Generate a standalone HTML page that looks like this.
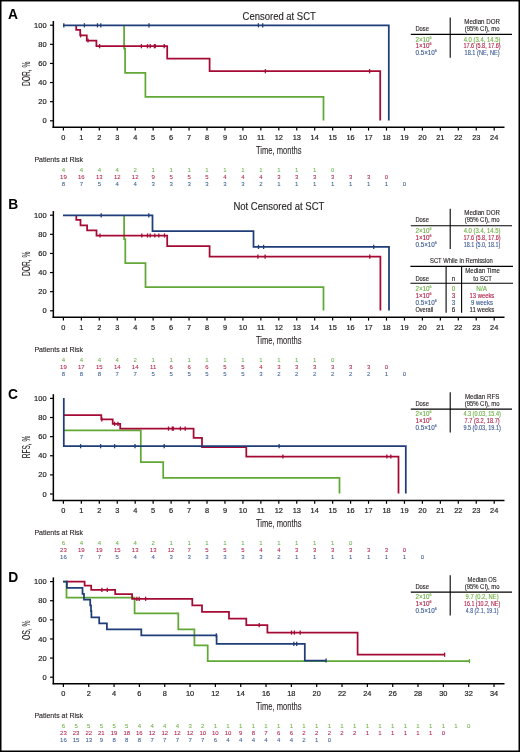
<!DOCTYPE html>
<html><head><meta charset="utf-8"><title>KM curves</title>
<style>
html,body{margin:0;padding:0;background:#fff;}
body{width:520px;height:752px;overflow:hidden;}
svg{display:block;will-change:transform;}
text{font-family:"Liberation Sans", sans-serif;}
.at{stroke:#231f20;stroke-width:0.08px;}
.yt{stroke:#231f20;stroke-width:0.12px;}
.xl,.yl{stroke:#231f20;stroke-width:0.2px;}
</style></head><body>
<svg width="520" height="752" viewBox="0 0 520 752">
<rect x="0" y="0" width="520" height="752" fill="#fff"/>
<g font-family='"Liberation Sans", sans-serif'>
<text x="8.0" y="18.8" font-size="13.8" font-weight="bold" fill="#000">A</text>
<line x1="53.35" y1="21.00" x2="53.35" y2="127.95" stroke="#000" stroke-width="1.5"/>
<line x1="52.60" y1="127.30" x2="504.50" y2="127.30" stroke="#000" stroke-width="1.5"/>
<line x1="50.00" y1="120.80" x2="53.50" y2="120.80" stroke="#000" stroke-width="1.2"/>
<text x="46.60" y="123.40" font-size="7.5" fill="#231f20" text-anchor="end" class="yl" stroke="#231f20" stroke-width="0.12">0</text>
<line x1="50.00" y1="101.68" x2="53.50" y2="101.68" stroke="#000" stroke-width="1.2"/>
<text x="46.60" y="104.28" font-size="7.5" fill="#231f20" text-anchor="end" class="yl" stroke="#231f20" stroke-width="0.12">20</text>
<line x1="50.00" y1="82.56" x2="53.50" y2="82.56" stroke="#000" stroke-width="1.2"/>
<text x="46.60" y="85.16" font-size="7.5" fill="#231f20" text-anchor="end" class="yl" stroke="#231f20" stroke-width="0.12">40</text>
<line x1="50.00" y1="63.44" x2="53.50" y2="63.44" stroke="#000" stroke-width="1.2"/>
<text x="46.60" y="66.04" font-size="7.5" fill="#231f20" text-anchor="end" class="yl" stroke="#231f20" stroke-width="0.12">60</text>
<line x1="50.00" y1="44.32" x2="53.50" y2="44.32" stroke="#000" stroke-width="1.2"/>
<text x="46.60" y="46.92" font-size="7.5" fill="#231f20" text-anchor="end" class="yl" stroke="#231f20" stroke-width="0.12">80</text>
<line x1="50.00" y1="25.20" x2="53.50" y2="25.20" stroke="#000" stroke-width="1.2"/>
<text x="46.60" y="27.80" font-size="7.5" fill="#231f20" text-anchor="end" class="yl" stroke="#231f20" stroke-width="0.12">100</text>
<line x1="63.40" y1="127.20" x2="63.40" y2="130.60" stroke="#000" stroke-width="1.2"/>
<text x="63.40" y="139.90" font-size="7.4" fill="#231f20" text-anchor="middle" class="xl" stroke="#231f20" stroke-width="0.12">0</text>
<line x1="81.35" y1="127.20" x2="81.35" y2="130.60" stroke="#000" stroke-width="1.2"/>
<text x="81.35" y="139.90" font-size="7.4" fill="#231f20" text-anchor="middle" class="xl" stroke="#231f20" stroke-width="0.12">1</text>
<line x1="99.30" y1="127.20" x2="99.30" y2="130.60" stroke="#000" stroke-width="1.2"/>
<text x="99.30" y="139.90" font-size="7.4" fill="#231f20" text-anchor="middle" class="xl" stroke="#231f20" stroke-width="0.12">2</text>
<line x1="117.25" y1="127.20" x2="117.25" y2="130.60" stroke="#000" stroke-width="1.2"/>
<text x="117.25" y="139.90" font-size="7.4" fill="#231f20" text-anchor="middle" class="xl" stroke="#231f20" stroke-width="0.12">3</text>
<line x1="135.20" y1="127.20" x2="135.20" y2="130.60" stroke="#000" stroke-width="1.2"/>
<text x="135.20" y="139.90" font-size="7.4" fill="#231f20" text-anchor="middle" class="xl" stroke="#231f20" stroke-width="0.12">4</text>
<line x1="153.15" y1="127.20" x2="153.15" y2="130.60" stroke="#000" stroke-width="1.2"/>
<text x="153.15" y="139.90" font-size="7.4" fill="#231f20" text-anchor="middle" class="xl" stroke="#231f20" stroke-width="0.12">5</text>
<line x1="171.10" y1="127.20" x2="171.10" y2="130.60" stroke="#000" stroke-width="1.2"/>
<text x="171.10" y="139.90" font-size="7.4" fill="#231f20" text-anchor="middle" class="xl" stroke="#231f20" stroke-width="0.12">6</text>
<line x1="189.05" y1="127.20" x2="189.05" y2="130.60" stroke="#000" stroke-width="1.2"/>
<text x="189.05" y="139.90" font-size="7.4" fill="#231f20" text-anchor="middle" class="xl" stroke="#231f20" stroke-width="0.12">7</text>
<line x1="207.00" y1="127.20" x2="207.00" y2="130.60" stroke="#000" stroke-width="1.2"/>
<text x="207.00" y="139.90" font-size="7.4" fill="#231f20" text-anchor="middle" class="xl" stroke="#231f20" stroke-width="0.12">8</text>
<line x1="224.95" y1="127.20" x2="224.95" y2="130.60" stroke="#000" stroke-width="1.2"/>
<text x="224.95" y="139.90" font-size="7.4" fill="#231f20" text-anchor="middle" class="xl" stroke="#231f20" stroke-width="0.12">9</text>
<line x1="242.90" y1="127.20" x2="242.90" y2="130.60" stroke="#000" stroke-width="1.2"/>
<text x="242.90" y="139.90" font-size="7.4" fill="#231f20" text-anchor="middle" class="xl" stroke="#231f20" stroke-width="0.12">10</text>
<line x1="260.85" y1="127.20" x2="260.85" y2="130.60" stroke="#000" stroke-width="1.2"/>
<text x="260.85" y="139.90" font-size="7.4" fill="#231f20" text-anchor="middle" class="xl" stroke="#231f20" stroke-width="0.12">11</text>
<line x1="278.80" y1="127.20" x2="278.80" y2="130.60" stroke="#000" stroke-width="1.2"/>
<text x="278.80" y="139.90" font-size="7.4" fill="#231f20" text-anchor="middle" class="xl" stroke="#231f20" stroke-width="0.12">12</text>
<line x1="296.75" y1="127.20" x2="296.75" y2="130.60" stroke="#000" stroke-width="1.2"/>
<text x="296.75" y="139.90" font-size="7.4" fill="#231f20" text-anchor="middle" class="xl" stroke="#231f20" stroke-width="0.12">13</text>
<line x1="314.70" y1="127.20" x2="314.70" y2="130.60" stroke="#000" stroke-width="1.2"/>
<text x="314.70" y="139.90" font-size="7.4" fill="#231f20" text-anchor="middle" class="xl" stroke="#231f20" stroke-width="0.12">14</text>
<line x1="332.65" y1="127.20" x2="332.65" y2="130.60" stroke="#000" stroke-width="1.2"/>
<text x="332.65" y="139.90" font-size="7.4" fill="#231f20" text-anchor="middle" class="xl" stroke="#231f20" stroke-width="0.12">15</text>
<line x1="350.60" y1="127.20" x2="350.60" y2="130.60" stroke="#000" stroke-width="1.2"/>
<text x="350.60" y="139.90" font-size="7.4" fill="#231f20" text-anchor="middle" class="xl" stroke="#231f20" stroke-width="0.12">16</text>
<line x1="368.55" y1="127.20" x2="368.55" y2="130.60" stroke="#000" stroke-width="1.2"/>
<text x="368.55" y="139.90" font-size="7.4" fill="#231f20" text-anchor="middle" class="xl" stroke="#231f20" stroke-width="0.12">17</text>
<line x1="386.50" y1="127.20" x2="386.50" y2="130.60" stroke="#000" stroke-width="1.2"/>
<text x="386.50" y="139.90" font-size="7.4" fill="#231f20" text-anchor="middle" class="xl" stroke="#231f20" stroke-width="0.12">18</text>
<line x1="404.45" y1="127.20" x2="404.45" y2="130.60" stroke="#000" stroke-width="1.2"/>
<text x="404.45" y="139.90" font-size="7.4" fill="#231f20" text-anchor="middle" class="xl" stroke="#231f20" stroke-width="0.12">19</text>
<line x1="422.40" y1="127.20" x2="422.40" y2="130.60" stroke="#000" stroke-width="1.2"/>
<text x="422.40" y="139.90" font-size="7.4" fill="#231f20" text-anchor="middle" class="xl" stroke="#231f20" stroke-width="0.12">20</text>
<line x1="440.35" y1="127.20" x2="440.35" y2="130.60" stroke="#000" stroke-width="1.2"/>
<text x="440.35" y="139.90" font-size="7.4" fill="#231f20" text-anchor="middle" class="xl" stroke="#231f20" stroke-width="0.12">21</text>
<line x1="458.30" y1="127.20" x2="458.30" y2="130.60" stroke="#000" stroke-width="1.2"/>
<text x="458.30" y="139.90" font-size="7.4" fill="#231f20" text-anchor="middle" class="xl" stroke="#231f20" stroke-width="0.12">22</text>
<line x1="476.25" y1="127.20" x2="476.25" y2="130.60" stroke="#000" stroke-width="1.2"/>
<text x="476.25" y="139.90" font-size="7.4" fill="#231f20" text-anchor="middle" class="xl" stroke="#231f20" stroke-width="0.12">23</text>
<line x1="494.20" y1="127.20" x2="494.20" y2="130.60" stroke="#000" stroke-width="1.2"/>
<text x="494.20" y="139.90" font-size="7.4" fill="#231f20" text-anchor="middle" class="xl" stroke="#231f20" stroke-width="0.12">24</text>
<text x="256.00" y="153.70" font-size="10.6" fill="#231f20" text-anchor="start" textLength="45.60" lengthAdjust="spacingAndGlyphs" class="at" stroke="#231f20" stroke-width="0.12">Time, months</text>
<text class="yt" transform="translate(29.5 73.80) rotate(-90)" font-size="10.8" fill="#231f20" text-anchor="middle" textLength="24.5" lengthAdjust="spacingAndGlyphs">DOR, %</text>
<text x="242.60" y="20.10" font-size="10.1" fill="#231f20" text-anchor="start" textLength="73.20" lengthAdjust="spacingAndGlyphs" stroke="#231f20" stroke-width="0.12">Censored at SCT</text>
<line x1="450.20" y1="17.50" x2="450.20" y2="57.70" stroke="#000" stroke-width="1.1"/>
<line x1="410.80" y1="34.40" x2="512.00" y2="34.40" stroke="#000" stroke-width="1.1"/>
<text x="415.40" y="31.10" font-size="6.3" fill="#231f20" text-anchor="start" textLength="13.60" lengthAdjust="spacingAndGlyphs" stroke="#231f20" stroke-width="0.12">Dose</text>
<text x="482.10" y="23.80" font-size="6.3" fill="#231f20" text-anchor="middle" textLength="35.60" lengthAdjust="spacingAndGlyphs" stroke="#231f20" stroke-width="0.12">Median DOR</text>
<text x="482.10" y="31.10" font-size="6.3" fill="#231f20" text-anchor="middle" textLength="34.80" lengthAdjust="spacingAndGlyphs" stroke="#231f20" stroke-width="0.12">(95% CI), mo</text>
<text x="415.40" y="41.50" font-size="6.3" fill="#6cb043" stroke="#6cb043" stroke-width="0.12">2×10<tspan dy="-3.0" font-size="3.6">6</tspan></text>
<text x="482.10" y="41.50" font-size="6.3" fill="#6cb043" text-anchor="middle" textLength="36.80" lengthAdjust="spacingAndGlyphs" stroke="#6cb043" stroke-width="0.12">4.0 (3.4, 14.5)</text>
<text x="415.40" y="48.40" font-size="6.3" fill="#b01c45" stroke="#b01c45" stroke-width="0.12">1×10<tspan dy="-3.0" font-size="3.6">6</tspan></text>
<text x="482.10" y="48.40" font-size="6.3" fill="#b01c45" text-anchor="middle" textLength="37.20" lengthAdjust="spacingAndGlyphs" stroke="#b01c45" stroke-width="0.12">17.6 (5.8, 17.6)</text>
<text x="415.40" y="55.30" font-size="6.3" fill="#3a5a95" stroke="#3a5a95" stroke-width="0.12">0.5×10<tspan dy="-3.0" font-size="3.6">6</tspan></text>
<text x="482.10" y="55.30" font-size="6.3" fill="#3a5a95" text-anchor="middle" textLength="35.20" lengthAdjust="spacingAndGlyphs" stroke="#3a5a95" stroke-width="0.12">18.1 (NE, NE)</text>
<path d="M124.1 25.3 V48.6 H125.1 V72.9 H145.4 V96.8 H323.5 V120.4" fill="none" stroke="#62a836" stroke-width="1.75" stroke-linejoin="miter" stroke-linecap="butt"/>
<path d="M76.2 25.3 V29.9 H80.2 V35.3 H86.8 V40.5 H96.4 V46.2 H167.2 V58.5 H209.6 V71.2 H380.2 V120.4" fill="none" stroke="#a50a35" stroke-width="1.75" stroke-linejoin="miter" stroke-linecap="butt"/>
<line x1="80.60" y1="33.20" x2="80.60" y2="37.40" stroke="#a50a35" stroke-width="1.3"/>
<line x1="88.00" y1="38.40" x2="88.00" y2="42.60" stroke="#a50a35" stroke-width="1.3"/>
<line x1="99.60" y1="44.10" x2="99.60" y2="48.30" stroke="#a50a35" stroke-width="1.3"/>
<line x1="141.40" y1="44.10" x2="141.40" y2="48.30" stroke="#a50a35" stroke-width="1.3"/>
<line x1="147.50" y1="44.10" x2="147.50" y2="48.30" stroke="#a50a35" stroke-width="1.3"/>
<line x1="150.20" y1="44.10" x2="150.20" y2="48.30" stroke="#a50a35" stroke-width="1.3"/>
<line x1="154.40" y1="44.10" x2="154.40" y2="48.30" stroke="#a50a35" stroke-width="1.3"/>
<line x1="155.20" y1="44.10" x2="155.20" y2="48.30" stroke="#a50a35" stroke-width="1.3"/>
<line x1="164.20" y1="44.10" x2="164.20" y2="48.30" stroke="#a50a35" stroke-width="1.3"/>
<line x1="265.40" y1="69.10" x2="265.40" y2="73.30" stroke="#a50a35" stroke-width="1.3"/>
<line x1="369.60" y1="69.10" x2="369.60" y2="73.30" stroke="#a50a35" stroke-width="1.3"/>
<path d="M63.0 25.3 H388.8 V120.4" fill="none" stroke="#1f3d78" stroke-width="1.75" stroke-linejoin="miter" stroke-linecap="butt"/>
<line x1="63.80" y1="23.20" x2="63.80" y2="27.40" stroke="#1f3d78" stroke-width="1.3"/>
<line x1="84.40" y1="23.20" x2="84.40" y2="27.40" stroke="#1f3d78" stroke-width="1.3"/>
<line x1="97.50" y1="23.20" x2="97.50" y2="27.40" stroke="#1f3d78" stroke-width="1.3"/>
<line x1="100.80" y1="23.20" x2="100.80" y2="27.40" stroke="#1f3d78" stroke-width="1.3"/>
<line x1="149.00" y1="23.20" x2="149.00" y2="27.40" stroke="#1f3d78" stroke-width="1.3"/>
<line x1="258.40" y1="23.20" x2="258.40" y2="27.40" stroke="#1f3d78" stroke-width="1.3"/>
<line x1="262.70" y1="23.20" x2="262.70" y2="27.40" stroke="#1f3d78" stroke-width="1.3"/>
<text x="34.40" y="161.50" font-size="7.2" fill="#231f20" text-anchor="start" textLength="48.60" lengthAdjust="spacingAndGlyphs" stroke="#231f20" stroke-width="0.12">Patients at Risk</text>
<text x="63.40" y="171.70" font-size="6.0" fill="#6cb043" text-anchor="middle" class="ar" stroke="#6cb043" stroke-width="0.06">4</text>
<text x="81.35" y="171.70" font-size="6.0" fill="#6cb043" text-anchor="middle" class="ar" stroke="#6cb043" stroke-width="0.06">4</text>
<text x="99.30" y="171.70" font-size="6.0" fill="#6cb043" text-anchor="middle" class="ar" stroke="#6cb043" stroke-width="0.06">4</text>
<text x="117.25" y="171.70" font-size="6.0" fill="#6cb043" text-anchor="middle" class="ar" stroke="#6cb043" stroke-width="0.06">4</text>
<text x="135.20" y="171.70" font-size="6.0" fill="#6cb043" text-anchor="middle" class="ar" stroke="#6cb043" stroke-width="0.06">2</text>
<text x="153.15" y="171.70" font-size="6.0" fill="#6cb043" text-anchor="middle" class="ar" stroke="#6cb043" stroke-width="0.06">1</text>
<text x="171.10" y="171.70" font-size="6.0" fill="#6cb043" text-anchor="middle" class="ar" stroke="#6cb043" stroke-width="0.06">1</text>
<text x="189.05" y="171.70" font-size="6.0" fill="#6cb043" text-anchor="middle" class="ar" stroke="#6cb043" stroke-width="0.06">1</text>
<text x="207.00" y="171.70" font-size="6.0" fill="#6cb043" text-anchor="middle" class="ar" stroke="#6cb043" stroke-width="0.06">1</text>
<text x="224.95" y="171.70" font-size="6.0" fill="#6cb043" text-anchor="middle" class="ar" stroke="#6cb043" stroke-width="0.06">1</text>
<text x="242.90" y="171.70" font-size="6.0" fill="#6cb043" text-anchor="middle" class="ar" stroke="#6cb043" stroke-width="0.06">1</text>
<text x="260.85" y="171.70" font-size="6.0" fill="#6cb043" text-anchor="middle" class="ar" stroke="#6cb043" stroke-width="0.06">1</text>
<text x="278.80" y="171.70" font-size="6.0" fill="#6cb043" text-anchor="middle" class="ar" stroke="#6cb043" stroke-width="0.06">1</text>
<text x="296.75" y="171.70" font-size="6.0" fill="#6cb043" text-anchor="middle" class="ar" stroke="#6cb043" stroke-width="0.06">1</text>
<text x="314.70" y="171.70" font-size="6.0" fill="#6cb043" text-anchor="middle" class="ar" stroke="#6cb043" stroke-width="0.06">1</text>
<text x="332.65" y="171.70" font-size="6.0" fill="#6cb043" text-anchor="middle" class="ar" stroke="#6cb043" stroke-width="0.06">0</text>
<text x="63.40" y="178.60" font-size="6.0" fill="#b01c45" text-anchor="middle" class="ar" stroke="#b01c45" stroke-width="0.06">19</text>
<text x="81.35" y="178.60" font-size="6.0" fill="#b01c45" text-anchor="middle" class="ar" stroke="#b01c45" stroke-width="0.06">16</text>
<text x="99.30" y="178.60" font-size="6.0" fill="#b01c45" text-anchor="middle" class="ar" stroke="#b01c45" stroke-width="0.06">13</text>
<text x="117.25" y="178.60" font-size="6.0" fill="#b01c45" text-anchor="middle" class="ar" stroke="#b01c45" stroke-width="0.06">12</text>
<text x="135.20" y="178.60" font-size="6.0" fill="#b01c45" text-anchor="middle" class="ar" stroke="#b01c45" stroke-width="0.06">12</text>
<text x="153.15" y="178.60" font-size="6.0" fill="#b01c45" text-anchor="middle" class="ar" stroke="#b01c45" stroke-width="0.06">9</text>
<text x="171.10" y="178.60" font-size="6.0" fill="#b01c45" text-anchor="middle" class="ar" stroke="#b01c45" stroke-width="0.06">5</text>
<text x="189.05" y="178.60" font-size="6.0" fill="#b01c45" text-anchor="middle" class="ar" stroke="#b01c45" stroke-width="0.06">5</text>
<text x="207.00" y="178.60" font-size="6.0" fill="#b01c45" text-anchor="middle" class="ar" stroke="#b01c45" stroke-width="0.06">5</text>
<text x="224.95" y="178.60" font-size="6.0" fill="#b01c45" text-anchor="middle" class="ar" stroke="#b01c45" stroke-width="0.06">4</text>
<text x="242.90" y="178.60" font-size="6.0" fill="#b01c45" text-anchor="middle" class="ar" stroke="#b01c45" stroke-width="0.06">4</text>
<text x="260.85" y="178.60" font-size="6.0" fill="#b01c45" text-anchor="middle" class="ar" stroke="#b01c45" stroke-width="0.06">4</text>
<text x="278.80" y="178.60" font-size="6.0" fill="#b01c45" text-anchor="middle" class="ar" stroke="#b01c45" stroke-width="0.06">3</text>
<text x="296.75" y="178.60" font-size="6.0" fill="#b01c45" text-anchor="middle" class="ar" stroke="#b01c45" stroke-width="0.06">3</text>
<text x="314.70" y="178.60" font-size="6.0" fill="#b01c45" text-anchor="middle" class="ar" stroke="#b01c45" stroke-width="0.06">3</text>
<text x="332.65" y="178.60" font-size="6.0" fill="#b01c45" text-anchor="middle" class="ar" stroke="#b01c45" stroke-width="0.06">3</text>
<text x="350.60" y="178.60" font-size="6.0" fill="#b01c45" text-anchor="middle" class="ar" stroke="#b01c45" stroke-width="0.06">3</text>
<text x="368.55" y="178.60" font-size="6.0" fill="#b01c45" text-anchor="middle" class="ar" stroke="#b01c45" stroke-width="0.06">3</text>
<text x="386.50" y="178.60" font-size="6.0" fill="#b01c45" text-anchor="middle" class="ar" stroke="#b01c45" stroke-width="0.06">0</text>
<text x="63.40" y="185.90" font-size="6.0" fill="#3a5a95" text-anchor="middle" class="ar" stroke="#3a5a95" stroke-width="0.06">8</text>
<text x="81.35" y="185.90" font-size="6.0" fill="#3a5a95" text-anchor="middle" class="ar" stroke="#3a5a95" stroke-width="0.06">7</text>
<text x="99.30" y="185.90" font-size="6.0" fill="#3a5a95" text-anchor="middle" class="ar" stroke="#3a5a95" stroke-width="0.06">5</text>
<text x="117.25" y="185.90" font-size="6.0" fill="#3a5a95" text-anchor="middle" class="ar" stroke="#3a5a95" stroke-width="0.06">4</text>
<text x="135.20" y="185.90" font-size="6.0" fill="#3a5a95" text-anchor="middle" class="ar" stroke="#3a5a95" stroke-width="0.06">4</text>
<text x="153.15" y="185.90" font-size="6.0" fill="#3a5a95" text-anchor="middle" class="ar" stroke="#3a5a95" stroke-width="0.06">3</text>
<text x="171.10" y="185.90" font-size="6.0" fill="#3a5a95" text-anchor="middle" class="ar" stroke="#3a5a95" stroke-width="0.06">3</text>
<text x="189.05" y="185.90" font-size="6.0" fill="#3a5a95" text-anchor="middle" class="ar" stroke="#3a5a95" stroke-width="0.06">3</text>
<text x="207.00" y="185.90" font-size="6.0" fill="#3a5a95" text-anchor="middle" class="ar" stroke="#3a5a95" stroke-width="0.06">3</text>
<text x="224.95" y="185.90" font-size="6.0" fill="#3a5a95" text-anchor="middle" class="ar" stroke="#3a5a95" stroke-width="0.06">3</text>
<text x="242.90" y="185.90" font-size="6.0" fill="#3a5a95" text-anchor="middle" class="ar" stroke="#3a5a95" stroke-width="0.06">3</text>
<text x="260.85" y="185.90" font-size="6.0" fill="#3a5a95" text-anchor="middle" class="ar" stroke="#3a5a95" stroke-width="0.06">2</text>
<text x="278.80" y="185.90" font-size="6.0" fill="#3a5a95" text-anchor="middle" class="ar" stroke="#3a5a95" stroke-width="0.06">1</text>
<text x="296.75" y="185.90" font-size="6.0" fill="#3a5a95" text-anchor="middle" class="ar" stroke="#3a5a95" stroke-width="0.06">1</text>
<text x="314.70" y="185.90" font-size="6.0" fill="#3a5a95" text-anchor="middle" class="ar" stroke="#3a5a95" stroke-width="0.06">1</text>
<text x="332.65" y="185.90" font-size="6.0" fill="#3a5a95" text-anchor="middle" class="ar" stroke="#3a5a95" stroke-width="0.06">1</text>
<text x="350.60" y="185.90" font-size="6.0" fill="#3a5a95" text-anchor="middle" class="ar" stroke="#3a5a95" stroke-width="0.06">1</text>
<text x="368.55" y="185.90" font-size="6.0" fill="#3a5a95" text-anchor="middle" class="ar" stroke="#3a5a95" stroke-width="0.06">1</text>
<text x="386.50" y="185.90" font-size="6.0" fill="#3a5a95" text-anchor="middle" class="ar" stroke="#3a5a95" stroke-width="0.06">1</text>
<text x="404.45" y="185.90" font-size="6.0" fill="#3a5a95" text-anchor="middle" class="ar" stroke="#3a5a95" stroke-width="0.06">0</text>
<text x="8.2" y="208.8" font-size="13.8" font-weight="bold" fill="#000">B</text>
<line x1="53.35" y1="211.00" x2="53.35" y2="317.95" stroke="#000" stroke-width="1.5"/>
<line x1="52.60" y1="317.30" x2="504.50" y2="317.30" stroke="#000" stroke-width="1.5"/>
<line x1="50.00" y1="310.80" x2="53.50" y2="310.80" stroke="#000" stroke-width="1.2"/>
<text x="46.60" y="313.40" font-size="7.5" fill="#231f20" text-anchor="end" class="yl" stroke="#231f20" stroke-width="0.12">0</text>
<line x1="50.00" y1="291.68" x2="53.50" y2="291.68" stroke="#000" stroke-width="1.2"/>
<text x="46.60" y="294.28" font-size="7.5" fill="#231f20" text-anchor="end" class="yl" stroke="#231f20" stroke-width="0.12">20</text>
<line x1="50.00" y1="272.56" x2="53.50" y2="272.56" stroke="#000" stroke-width="1.2"/>
<text x="46.60" y="275.16" font-size="7.5" fill="#231f20" text-anchor="end" class="yl" stroke="#231f20" stroke-width="0.12">40</text>
<line x1="50.00" y1="253.44" x2="53.50" y2="253.44" stroke="#000" stroke-width="1.2"/>
<text x="46.60" y="256.04" font-size="7.5" fill="#231f20" text-anchor="end" class="yl" stroke="#231f20" stroke-width="0.12">60</text>
<line x1="50.00" y1="234.32" x2="53.50" y2="234.32" stroke="#000" stroke-width="1.2"/>
<text x="46.60" y="236.92" font-size="7.5" fill="#231f20" text-anchor="end" class="yl" stroke="#231f20" stroke-width="0.12">80</text>
<line x1="50.00" y1="215.20" x2="53.50" y2="215.20" stroke="#000" stroke-width="1.2"/>
<text x="46.60" y="217.80" font-size="7.5" fill="#231f20" text-anchor="end" class="yl" stroke="#231f20" stroke-width="0.12">100</text>
<line x1="63.40" y1="317.20" x2="63.40" y2="320.60" stroke="#000" stroke-width="1.2"/>
<text x="63.40" y="329.90" font-size="7.4" fill="#231f20" text-anchor="middle" class="xl" stroke="#231f20" stroke-width="0.12">0</text>
<line x1="81.35" y1="317.20" x2="81.35" y2="320.60" stroke="#000" stroke-width="1.2"/>
<text x="81.35" y="329.90" font-size="7.4" fill="#231f20" text-anchor="middle" class="xl" stroke="#231f20" stroke-width="0.12">1</text>
<line x1="99.30" y1="317.20" x2="99.30" y2="320.60" stroke="#000" stroke-width="1.2"/>
<text x="99.30" y="329.90" font-size="7.4" fill="#231f20" text-anchor="middle" class="xl" stroke="#231f20" stroke-width="0.12">2</text>
<line x1="117.25" y1="317.20" x2="117.25" y2="320.60" stroke="#000" stroke-width="1.2"/>
<text x="117.25" y="329.90" font-size="7.4" fill="#231f20" text-anchor="middle" class="xl" stroke="#231f20" stroke-width="0.12">3</text>
<line x1="135.20" y1="317.20" x2="135.20" y2="320.60" stroke="#000" stroke-width="1.2"/>
<text x="135.20" y="329.90" font-size="7.4" fill="#231f20" text-anchor="middle" class="xl" stroke="#231f20" stroke-width="0.12">4</text>
<line x1="153.15" y1="317.20" x2="153.15" y2="320.60" stroke="#000" stroke-width="1.2"/>
<text x="153.15" y="329.90" font-size="7.4" fill="#231f20" text-anchor="middle" class="xl" stroke="#231f20" stroke-width="0.12">5</text>
<line x1="171.10" y1="317.20" x2="171.10" y2="320.60" stroke="#000" stroke-width="1.2"/>
<text x="171.10" y="329.90" font-size="7.4" fill="#231f20" text-anchor="middle" class="xl" stroke="#231f20" stroke-width="0.12">6</text>
<line x1="189.05" y1="317.20" x2="189.05" y2="320.60" stroke="#000" stroke-width="1.2"/>
<text x="189.05" y="329.90" font-size="7.4" fill="#231f20" text-anchor="middle" class="xl" stroke="#231f20" stroke-width="0.12">7</text>
<line x1="207.00" y1="317.20" x2="207.00" y2="320.60" stroke="#000" stroke-width="1.2"/>
<text x="207.00" y="329.90" font-size="7.4" fill="#231f20" text-anchor="middle" class="xl" stroke="#231f20" stroke-width="0.12">8</text>
<line x1="224.95" y1="317.20" x2="224.95" y2="320.60" stroke="#000" stroke-width="1.2"/>
<text x="224.95" y="329.90" font-size="7.4" fill="#231f20" text-anchor="middle" class="xl" stroke="#231f20" stroke-width="0.12">9</text>
<line x1="242.90" y1="317.20" x2="242.90" y2="320.60" stroke="#000" stroke-width="1.2"/>
<text x="242.90" y="329.90" font-size="7.4" fill="#231f20" text-anchor="middle" class="xl" stroke="#231f20" stroke-width="0.12">10</text>
<line x1="260.85" y1="317.20" x2="260.85" y2="320.60" stroke="#000" stroke-width="1.2"/>
<text x="260.85" y="329.90" font-size="7.4" fill="#231f20" text-anchor="middle" class="xl" stroke="#231f20" stroke-width="0.12">11</text>
<line x1="278.80" y1="317.20" x2="278.80" y2="320.60" stroke="#000" stroke-width="1.2"/>
<text x="278.80" y="329.90" font-size="7.4" fill="#231f20" text-anchor="middle" class="xl" stroke="#231f20" stroke-width="0.12">12</text>
<line x1="296.75" y1="317.20" x2="296.75" y2="320.60" stroke="#000" stroke-width="1.2"/>
<text x="296.75" y="329.90" font-size="7.4" fill="#231f20" text-anchor="middle" class="xl" stroke="#231f20" stroke-width="0.12">13</text>
<line x1="314.70" y1="317.20" x2="314.70" y2="320.60" stroke="#000" stroke-width="1.2"/>
<text x="314.70" y="329.90" font-size="7.4" fill="#231f20" text-anchor="middle" class="xl" stroke="#231f20" stroke-width="0.12">14</text>
<line x1="332.65" y1="317.20" x2="332.65" y2="320.60" stroke="#000" stroke-width="1.2"/>
<text x="332.65" y="329.90" font-size="7.4" fill="#231f20" text-anchor="middle" class="xl" stroke="#231f20" stroke-width="0.12">15</text>
<line x1="350.60" y1="317.20" x2="350.60" y2="320.60" stroke="#000" stroke-width="1.2"/>
<text x="350.60" y="329.90" font-size="7.4" fill="#231f20" text-anchor="middle" class="xl" stroke="#231f20" stroke-width="0.12">16</text>
<line x1="368.55" y1="317.20" x2="368.55" y2="320.60" stroke="#000" stroke-width="1.2"/>
<text x="368.55" y="329.90" font-size="7.4" fill="#231f20" text-anchor="middle" class="xl" stroke="#231f20" stroke-width="0.12">17</text>
<line x1="386.50" y1="317.20" x2="386.50" y2="320.60" stroke="#000" stroke-width="1.2"/>
<text x="386.50" y="329.90" font-size="7.4" fill="#231f20" text-anchor="middle" class="xl" stroke="#231f20" stroke-width="0.12">18</text>
<line x1="404.45" y1="317.20" x2="404.45" y2="320.60" stroke="#000" stroke-width="1.2"/>
<text x="404.45" y="329.90" font-size="7.4" fill="#231f20" text-anchor="middle" class="xl" stroke="#231f20" stroke-width="0.12">19</text>
<line x1="422.40" y1="317.20" x2="422.40" y2="320.60" stroke="#000" stroke-width="1.2"/>
<text x="422.40" y="329.90" font-size="7.4" fill="#231f20" text-anchor="middle" class="xl" stroke="#231f20" stroke-width="0.12">20</text>
<line x1="440.35" y1="317.20" x2="440.35" y2="320.60" stroke="#000" stroke-width="1.2"/>
<text x="440.35" y="329.90" font-size="7.4" fill="#231f20" text-anchor="middle" class="xl" stroke="#231f20" stroke-width="0.12">21</text>
<line x1="458.30" y1="317.20" x2="458.30" y2="320.60" stroke="#000" stroke-width="1.2"/>
<text x="458.30" y="329.90" font-size="7.4" fill="#231f20" text-anchor="middle" class="xl" stroke="#231f20" stroke-width="0.12">22</text>
<line x1="476.25" y1="317.20" x2="476.25" y2="320.60" stroke="#000" stroke-width="1.2"/>
<text x="476.25" y="329.90" font-size="7.4" fill="#231f20" text-anchor="middle" class="xl" stroke="#231f20" stroke-width="0.12">23</text>
<line x1="494.20" y1="317.20" x2="494.20" y2="320.60" stroke="#000" stroke-width="1.2"/>
<text x="494.20" y="329.90" font-size="7.4" fill="#231f20" text-anchor="middle" class="xl" stroke="#231f20" stroke-width="0.12">24</text>
<text x="256.00" y="343.70" font-size="10.6" fill="#231f20" text-anchor="start" textLength="45.60" lengthAdjust="spacingAndGlyphs" class="at" stroke="#231f20" stroke-width="0.12">Time, months</text>
<text class="yt" transform="translate(29.5 263.80) rotate(-90)" font-size="10.8" fill="#231f20" text-anchor="middle" textLength="24.5" lengthAdjust="spacingAndGlyphs">DOR, %</text>
<text x="233.40" y="210.30" font-size="10.1" fill="#231f20" text-anchor="start" textLength="91.00" lengthAdjust="spacingAndGlyphs" stroke="#231f20" stroke-width="0.12">Not Censored at SCT</text>
<line x1="450.20" y1="208.80" x2="450.20" y2="249.00" stroke="#000" stroke-width="1.1"/>
<line x1="410.80" y1="225.70" x2="512.00" y2="225.70" stroke="#000" stroke-width="1.1"/>
<text x="415.40" y="222.40" font-size="6.3" fill="#231f20" text-anchor="start" textLength="13.60" lengthAdjust="spacingAndGlyphs" stroke="#231f20" stroke-width="0.12">Dose</text>
<text x="482.10" y="215.10" font-size="6.3" fill="#231f20" text-anchor="middle" textLength="35.60" lengthAdjust="spacingAndGlyphs" stroke="#231f20" stroke-width="0.12">Median DOR</text>
<text x="482.10" y="222.40" font-size="6.3" fill="#231f20" text-anchor="middle" textLength="34.80" lengthAdjust="spacingAndGlyphs" stroke="#231f20" stroke-width="0.12">(95% CI), mo</text>
<text x="415.40" y="232.80" font-size="6.3" fill="#6cb043" stroke="#6cb043" stroke-width="0.12">2×10<tspan dy="-3.0" font-size="3.6">6</tspan></text>
<text x="482.10" y="232.80" font-size="6.3" fill="#6cb043" text-anchor="middle" textLength="36.80" lengthAdjust="spacingAndGlyphs" stroke="#6cb043" stroke-width="0.12">4.0 (3.4, 14.5)</text>
<text x="415.40" y="239.70" font-size="6.3" fill="#b01c45" stroke="#b01c45" stroke-width="0.12">1×10<tspan dy="-3.0" font-size="3.6">6</tspan></text>
<text x="482.10" y="239.70" font-size="6.3" fill="#b01c45" text-anchor="middle" textLength="37.20" lengthAdjust="spacingAndGlyphs" stroke="#b01c45" stroke-width="0.12">17.6 (5.8, 17.6)</text>
<text x="415.40" y="246.60" font-size="6.3" fill="#3a5a95" stroke="#3a5a95" stroke-width="0.12">0.5×10<tspan dy="-3.0" font-size="3.6">6</tspan></text>
<text x="482.10" y="246.60" font-size="6.3" fill="#3a5a95" text-anchor="middle" textLength="36.60" lengthAdjust="spacingAndGlyphs" stroke="#3a5a95" stroke-width="0.12">18.1 (5.0, 18.1)</text>
<text x="461.40" y="262.80" font-size="6.3" fill="#231f20" text-anchor="middle" textLength="62.80" lengthAdjust="spacingAndGlyphs" stroke="#231f20" stroke-width="0.12">SCT While in Remission</text>
<line x1="410.40" y1="266.40" x2="513.00" y2="266.40" stroke="#000" stroke-width="1.1"/>
<line x1="410.40" y1="283.30" x2="513.00" y2="283.30" stroke="#000" stroke-width="1.1"/>
<line x1="446.10" y1="266.40" x2="446.10" y2="312.80" stroke="#000" stroke-width="1.1"/>
<line x1="461.60" y1="266.40" x2="461.60" y2="312.80" stroke="#000" stroke-width="1.1"/>
<text x="415.40" y="280.50" font-size="6.3" fill="#231f20" text-anchor="start" textLength="13.60" lengthAdjust="spacingAndGlyphs" stroke="#231f20" stroke-width="0.12">Dose</text>
<text x="453.60" y="280.50" font-size="6.3" fill="#231f20" text-anchor="middle" stroke="#231f20" stroke-width="0.12">n</text>
<text x="482.60" y="273.00" font-size="6.3" fill="#231f20" text-anchor="middle" textLength="34.50" lengthAdjust="spacingAndGlyphs" stroke="#231f20" stroke-width="0.12">Median Time</text>
<text x="482.60" y="280.50" font-size="6.3" fill="#231f20" text-anchor="middle" textLength="18.60" lengthAdjust="spacingAndGlyphs" stroke="#231f20" stroke-width="0.12">to SCT</text>
<text x="415.40" y="290.90" font-size="6.3" fill="#6cb043" stroke="#6cb043" stroke-width="0.12">2×10<tspan dy="-3.0" font-size="3.6">6</tspan></text>
<text x="453.60" y="290.90" font-size="6.3" fill="#6cb043" text-anchor="middle" stroke="#6cb043" stroke-width="0.12">0</text>
<text x="481.60" y="290.90" font-size="6.3" fill="#6cb043" text-anchor="middle" textLength="10.60" lengthAdjust="spacingAndGlyphs" stroke="#6cb043" stroke-width="0.12">N/A</text>
<text x="415.40" y="297.90" font-size="6.3" fill="#b01c45" stroke="#b01c45" stroke-width="0.12">1×10<tspan dy="-3.0" font-size="3.6">6</tspan></text>
<text x="453.60" y="297.90" font-size="6.3" fill="#b01c45" text-anchor="middle" stroke="#b01c45" stroke-width="0.12">3</text>
<text x="481.90" y="297.90" font-size="6.3" fill="#b01c45" text-anchor="middle" textLength="24.80" lengthAdjust="spacingAndGlyphs" stroke="#b01c45" stroke-width="0.12">13 weeks</text>
<text x="415.40" y="305.20" font-size="6.3" fill="#3a5a95" stroke="#3a5a95" stroke-width="0.12">0.5×10<tspan dy="-3.0" font-size="3.6">6</tspan></text>
<text x="453.60" y="305.20" font-size="6.3" fill="#3a5a95" text-anchor="middle" stroke="#3a5a95" stroke-width="0.12">3</text>
<text x="481.90" y="305.20" font-size="6.3" fill="#3a5a95" text-anchor="middle" textLength="22.00" lengthAdjust="spacingAndGlyphs" stroke="#3a5a95" stroke-width="0.12">9 weeks</text>
<text x="415.40" y="312.30" font-size="6.3" fill="#231f20" text-anchor="start" textLength="17.80" lengthAdjust="spacingAndGlyphs" stroke="#231f20" stroke-width="0.12">Overall</text>
<text x="453.60" y="312.30" font-size="6.3" fill="#231f20" text-anchor="middle" stroke="#231f20" stroke-width="0.12">6</text>
<text x="481.90" y="312.30" font-size="6.3" fill="#231f20" text-anchor="middle" textLength="24.80" lengthAdjust="spacingAndGlyphs" stroke="#231f20" stroke-width="0.12">11 weeks</text>
<path d="M124.1 215.3 V239.1 H125.3 V263.1 H145.5 V287.1 H323.5 V310.4" fill="none" stroke="#62a836" stroke-width="1.75" stroke-linejoin="miter" stroke-linecap="butt"/>
<path d="M76.3 215.3 V219.9 H80.5 V225.3 H87.1 V230.3 H96.5 V235.5 H167.2 V246.1 H209.6 V256.7 H380.4 V310.4" fill="none" stroke="#a50a35" stroke-width="1.75" stroke-linejoin="miter" stroke-linecap="butt"/>
<line x1="100.00" y1="233.40" x2="100.00" y2="237.60" stroke="#a50a35" stroke-width="1.3"/>
<line x1="141.80" y1="233.40" x2="141.80" y2="237.60" stroke="#a50a35" stroke-width="1.3"/>
<line x1="147.50" y1="233.40" x2="147.50" y2="237.60" stroke="#a50a35" stroke-width="1.3"/>
<line x1="150.20" y1="233.40" x2="150.20" y2="237.60" stroke="#a50a35" stroke-width="1.3"/>
<line x1="154.80" y1="233.40" x2="154.80" y2="237.60" stroke="#a50a35" stroke-width="1.3"/>
<line x1="158.80" y1="233.40" x2="158.80" y2="237.60" stroke="#a50a35" stroke-width="1.3"/>
<line x1="164.50" y1="233.40" x2="164.50" y2="237.60" stroke="#a50a35" stroke-width="1.3"/>
<line x1="257.90" y1="254.60" x2="257.90" y2="258.80" stroke="#a50a35" stroke-width="1.3"/>
<line x1="265.10" y1="254.60" x2="265.10" y2="258.80" stroke="#a50a35" stroke-width="1.3"/>
<line x1="369.80" y1="254.60" x2="369.80" y2="258.80" stroke="#a50a35" stroke-width="1.3"/>
<path d="M63.0 215.3 H152.5 V231.1 H253.5 V246.9 H389.0 V310.4" fill="none" stroke="#1f3d78" stroke-width="1.75" stroke-linejoin="miter" stroke-linecap="butt"/>
<line x1="101.20" y1="213.20" x2="101.20" y2="217.40" stroke="#1f3d78" stroke-width="1.3"/>
<line x1="148.80" y1="213.20" x2="148.80" y2="217.40" stroke="#1f3d78" stroke-width="1.3"/>
<line x1="258.50" y1="244.80" x2="258.50" y2="249.00" stroke="#1f3d78" stroke-width="1.3"/>
<line x1="263.60" y1="244.80" x2="263.60" y2="249.00" stroke="#1f3d78" stroke-width="1.3"/>
<line x1="373.70" y1="244.80" x2="373.70" y2="249.00" stroke="#1f3d78" stroke-width="1.3"/>
<text x="34.40" y="351.50" font-size="7.2" fill="#231f20" text-anchor="start" textLength="48.60" lengthAdjust="spacingAndGlyphs" stroke="#231f20" stroke-width="0.12">Patients at Risk</text>
<text x="63.40" y="361.70" font-size="6.0" fill="#6cb043" text-anchor="middle" class="ar" stroke="#6cb043" stroke-width="0.06">4</text>
<text x="81.35" y="361.70" font-size="6.0" fill="#6cb043" text-anchor="middle" class="ar" stroke="#6cb043" stroke-width="0.06">4</text>
<text x="99.30" y="361.70" font-size="6.0" fill="#6cb043" text-anchor="middle" class="ar" stroke="#6cb043" stroke-width="0.06">4</text>
<text x="117.25" y="361.70" font-size="6.0" fill="#6cb043" text-anchor="middle" class="ar" stroke="#6cb043" stroke-width="0.06">4</text>
<text x="135.20" y="361.70" font-size="6.0" fill="#6cb043" text-anchor="middle" class="ar" stroke="#6cb043" stroke-width="0.06">2</text>
<text x="153.15" y="361.70" font-size="6.0" fill="#6cb043" text-anchor="middle" class="ar" stroke="#6cb043" stroke-width="0.06">1</text>
<text x="171.10" y="361.70" font-size="6.0" fill="#6cb043" text-anchor="middle" class="ar" stroke="#6cb043" stroke-width="0.06">1</text>
<text x="189.05" y="361.70" font-size="6.0" fill="#6cb043" text-anchor="middle" class="ar" stroke="#6cb043" stroke-width="0.06">1</text>
<text x="207.00" y="361.70" font-size="6.0" fill="#6cb043" text-anchor="middle" class="ar" stroke="#6cb043" stroke-width="0.06">1</text>
<text x="224.95" y="361.70" font-size="6.0" fill="#6cb043" text-anchor="middle" class="ar" stroke="#6cb043" stroke-width="0.06">1</text>
<text x="242.90" y="361.70" font-size="6.0" fill="#6cb043" text-anchor="middle" class="ar" stroke="#6cb043" stroke-width="0.06">1</text>
<text x="260.85" y="361.70" font-size="6.0" fill="#6cb043" text-anchor="middle" class="ar" stroke="#6cb043" stroke-width="0.06">1</text>
<text x="278.80" y="361.70" font-size="6.0" fill="#6cb043" text-anchor="middle" class="ar" stroke="#6cb043" stroke-width="0.06">1</text>
<text x="296.75" y="361.70" font-size="6.0" fill="#6cb043" text-anchor="middle" class="ar" stroke="#6cb043" stroke-width="0.06">1</text>
<text x="314.70" y="361.70" font-size="6.0" fill="#6cb043" text-anchor="middle" class="ar" stroke="#6cb043" stroke-width="0.06">1</text>
<text x="332.65" y="361.70" font-size="6.0" fill="#6cb043" text-anchor="middle" class="ar" stroke="#6cb043" stroke-width="0.06">0</text>
<text x="63.40" y="368.60" font-size="6.0" fill="#b01c45" text-anchor="middle" class="ar" stroke="#b01c45" stroke-width="0.06">19</text>
<text x="81.35" y="368.60" font-size="6.0" fill="#b01c45" text-anchor="middle" class="ar" stroke="#b01c45" stroke-width="0.06">17</text>
<text x="99.30" y="368.60" font-size="6.0" fill="#b01c45" text-anchor="middle" class="ar" stroke="#b01c45" stroke-width="0.06">15</text>
<text x="117.25" y="368.60" font-size="6.0" fill="#b01c45" text-anchor="middle" class="ar" stroke="#b01c45" stroke-width="0.06">14</text>
<text x="135.20" y="368.60" font-size="6.0" fill="#b01c45" text-anchor="middle" class="ar" stroke="#b01c45" stroke-width="0.06">14</text>
<text x="153.15" y="368.60" font-size="6.0" fill="#b01c45" text-anchor="middle" class="ar" stroke="#b01c45" stroke-width="0.06">11</text>
<text x="171.10" y="368.60" font-size="6.0" fill="#b01c45" text-anchor="middle" class="ar" stroke="#b01c45" stroke-width="0.06">6</text>
<text x="189.05" y="368.60" font-size="6.0" fill="#b01c45" text-anchor="middle" class="ar" stroke="#b01c45" stroke-width="0.06">6</text>
<text x="207.00" y="368.60" font-size="6.0" fill="#b01c45" text-anchor="middle" class="ar" stroke="#b01c45" stroke-width="0.06">6</text>
<text x="224.95" y="368.60" font-size="6.0" fill="#b01c45" text-anchor="middle" class="ar" stroke="#b01c45" stroke-width="0.06">5</text>
<text x="242.90" y="368.60" font-size="6.0" fill="#b01c45" text-anchor="middle" class="ar" stroke="#b01c45" stroke-width="0.06">5</text>
<text x="260.85" y="368.60" font-size="6.0" fill="#b01c45" text-anchor="middle" class="ar" stroke="#b01c45" stroke-width="0.06">4</text>
<text x="278.80" y="368.60" font-size="6.0" fill="#b01c45" text-anchor="middle" class="ar" stroke="#b01c45" stroke-width="0.06">3</text>
<text x="296.75" y="368.60" font-size="6.0" fill="#b01c45" text-anchor="middle" class="ar" stroke="#b01c45" stroke-width="0.06">3</text>
<text x="314.70" y="368.60" font-size="6.0" fill="#b01c45" text-anchor="middle" class="ar" stroke="#b01c45" stroke-width="0.06">3</text>
<text x="332.65" y="368.60" font-size="6.0" fill="#b01c45" text-anchor="middle" class="ar" stroke="#b01c45" stroke-width="0.06">3</text>
<text x="350.60" y="368.60" font-size="6.0" fill="#b01c45" text-anchor="middle" class="ar" stroke="#b01c45" stroke-width="0.06">3</text>
<text x="368.55" y="368.60" font-size="6.0" fill="#b01c45" text-anchor="middle" class="ar" stroke="#b01c45" stroke-width="0.06">3</text>
<text x="386.50" y="368.60" font-size="6.0" fill="#b01c45" text-anchor="middle" class="ar" stroke="#b01c45" stroke-width="0.06">0</text>
<text x="63.40" y="375.90" font-size="6.0" fill="#3a5a95" text-anchor="middle" class="ar" stroke="#3a5a95" stroke-width="0.06">8</text>
<text x="81.35" y="375.90" font-size="6.0" fill="#3a5a95" text-anchor="middle" class="ar" stroke="#3a5a95" stroke-width="0.06">8</text>
<text x="99.30" y="375.90" font-size="6.0" fill="#3a5a95" text-anchor="middle" class="ar" stroke="#3a5a95" stroke-width="0.06">8</text>
<text x="117.25" y="375.90" font-size="6.0" fill="#3a5a95" text-anchor="middle" class="ar" stroke="#3a5a95" stroke-width="0.06">7</text>
<text x="135.20" y="375.90" font-size="6.0" fill="#3a5a95" text-anchor="middle" class="ar" stroke="#3a5a95" stroke-width="0.06">7</text>
<text x="153.15" y="375.90" font-size="6.0" fill="#3a5a95" text-anchor="middle" class="ar" stroke="#3a5a95" stroke-width="0.06">5</text>
<text x="171.10" y="375.90" font-size="6.0" fill="#3a5a95" text-anchor="middle" class="ar" stroke="#3a5a95" stroke-width="0.06">5</text>
<text x="189.05" y="375.90" font-size="6.0" fill="#3a5a95" text-anchor="middle" class="ar" stroke="#3a5a95" stroke-width="0.06">5</text>
<text x="207.00" y="375.90" font-size="6.0" fill="#3a5a95" text-anchor="middle" class="ar" stroke="#3a5a95" stroke-width="0.06">5</text>
<text x="224.95" y="375.90" font-size="6.0" fill="#3a5a95" text-anchor="middle" class="ar" stroke="#3a5a95" stroke-width="0.06">5</text>
<text x="242.90" y="375.90" font-size="6.0" fill="#3a5a95" text-anchor="middle" class="ar" stroke="#3a5a95" stroke-width="0.06">5</text>
<text x="260.85" y="375.90" font-size="6.0" fill="#3a5a95" text-anchor="middle" class="ar" stroke="#3a5a95" stroke-width="0.06">3</text>
<text x="278.80" y="375.90" font-size="6.0" fill="#3a5a95" text-anchor="middle" class="ar" stroke="#3a5a95" stroke-width="0.06">2</text>
<text x="296.75" y="375.90" font-size="6.0" fill="#3a5a95" text-anchor="middle" class="ar" stroke="#3a5a95" stroke-width="0.06">2</text>
<text x="314.70" y="375.90" font-size="6.0" fill="#3a5a95" text-anchor="middle" class="ar" stroke="#3a5a95" stroke-width="0.06">2</text>
<text x="332.65" y="375.90" font-size="6.0" fill="#3a5a95" text-anchor="middle" class="ar" stroke="#3a5a95" stroke-width="0.06">2</text>
<text x="350.60" y="375.90" font-size="6.0" fill="#3a5a95" text-anchor="middle" class="ar" stroke="#3a5a95" stroke-width="0.06">2</text>
<text x="368.55" y="375.90" font-size="6.0" fill="#3a5a95" text-anchor="middle" class="ar" stroke="#3a5a95" stroke-width="0.06">2</text>
<text x="386.50" y="375.90" font-size="6.0" fill="#3a5a95" text-anchor="middle" class="ar" stroke="#3a5a95" stroke-width="0.06">1</text>
<text x="404.45" y="375.90" font-size="6.0" fill="#3a5a95" text-anchor="middle" class="ar" stroke="#3a5a95" stroke-width="0.06">0</text>
<text x="8.0" y="398.5" font-size="13.8" font-weight="bold" fill="#000">C</text>
<line x1="53.35" y1="394.20" x2="53.35" y2="501.15" stroke="#000" stroke-width="1.5"/>
<line x1="52.60" y1="500.50" x2="504.50" y2="500.50" stroke="#000" stroke-width="1.5"/>
<line x1="50.00" y1="494.00" x2="53.50" y2="494.00" stroke="#000" stroke-width="1.2"/>
<text x="46.60" y="496.60" font-size="7.5" fill="#231f20" text-anchor="end" class="yl" stroke="#231f20" stroke-width="0.12">0</text>
<line x1="50.00" y1="474.88" x2="53.50" y2="474.88" stroke="#000" stroke-width="1.2"/>
<text x="46.60" y="477.48" font-size="7.5" fill="#231f20" text-anchor="end" class="yl" stroke="#231f20" stroke-width="0.12">20</text>
<line x1="50.00" y1="455.76" x2="53.50" y2="455.76" stroke="#000" stroke-width="1.2"/>
<text x="46.60" y="458.36" font-size="7.5" fill="#231f20" text-anchor="end" class="yl" stroke="#231f20" stroke-width="0.12">40</text>
<line x1="50.00" y1="436.64" x2="53.50" y2="436.64" stroke="#000" stroke-width="1.2"/>
<text x="46.60" y="439.24" font-size="7.5" fill="#231f20" text-anchor="end" class="yl" stroke="#231f20" stroke-width="0.12">60</text>
<line x1="50.00" y1="417.52" x2="53.50" y2="417.52" stroke="#000" stroke-width="1.2"/>
<text x="46.60" y="420.12" font-size="7.5" fill="#231f20" text-anchor="end" class="yl" stroke="#231f20" stroke-width="0.12">80</text>
<line x1="50.00" y1="398.40" x2="53.50" y2="398.40" stroke="#000" stroke-width="1.2"/>
<text x="46.60" y="401.00" font-size="7.5" fill="#231f20" text-anchor="end" class="yl" stroke="#231f20" stroke-width="0.12">100</text>
<line x1="63.40" y1="500.40" x2="63.40" y2="503.80" stroke="#000" stroke-width="1.2"/>
<text x="63.40" y="513.10" font-size="7.4" fill="#231f20" text-anchor="middle" class="xl" stroke="#231f20" stroke-width="0.12">0</text>
<line x1="81.35" y1="500.40" x2="81.35" y2="503.80" stroke="#000" stroke-width="1.2"/>
<text x="81.35" y="513.10" font-size="7.4" fill="#231f20" text-anchor="middle" class="xl" stroke="#231f20" stroke-width="0.12">1</text>
<line x1="99.30" y1="500.40" x2="99.30" y2="503.80" stroke="#000" stroke-width="1.2"/>
<text x="99.30" y="513.10" font-size="7.4" fill="#231f20" text-anchor="middle" class="xl" stroke="#231f20" stroke-width="0.12">2</text>
<line x1="117.25" y1="500.40" x2="117.25" y2="503.80" stroke="#000" stroke-width="1.2"/>
<text x="117.25" y="513.10" font-size="7.4" fill="#231f20" text-anchor="middle" class="xl" stroke="#231f20" stroke-width="0.12">3</text>
<line x1="135.20" y1="500.40" x2="135.20" y2="503.80" stroke="#000" stroke-width="1.2"/>
<text x="135.20" y="513.10" font-size="7.4" fill="#231f20" text-anchor="middle" class="xl" stroke="#231f20" stroke-width="0.12">4</text>
<line x1="153.15" y1="500.40" x2="153.15" y2="503.80" stroke="#000" stroke-width="1.2"/>
<text x="153.15" y="513.10" font-size="7.4" fill="#231f20" text-anchor="middle" class="xl" stroke="#231f20" stroke-width="0.12">5</text>
<line x1="171.10" y1="500.40" x2="171.10" y2="503.80" stroke="#000" stroke-width="1.2"/>
<text x="171.10" y="513.10" font-size="7.4" fill="#231f20" text-anchor="middle" class="xl" stroke="#231f20" stroke-width="0.12">6</text>
<line x1="189.05" y1="500.40" x2="189.05" y2="503.80" stroke="#000" stroke-width="1.2"/>
<text x="189.05" y="513.10" font-size="7.4" fill="#231f20" text-anchor="middle" class="xl" stroke="#231f20" stroke-width="0.12">7</text>
<line x1="207.00" y1="500.40" x2="207.00" y2="503.80" stroke="#000" stroke-width="1.2"/>
<text x="207.00" y="513.10" font-size="7.4" fill="#231f20" text-anchor="middle" class="xl" stroke="#231f20" stroke-width="0.12">8</text>
<line x1="224.95" y1="500.40" x2="224.95" y2="503.80" stroke="#000" stroke-width="1.2"/>
<text x="224.95" y="513.10" font-size="7.4" fill="#231f20" text-anchor="middle" class="xl" stroke="#231f20" stroke-width="0.12">9</text>
<line x1="242.90" y1="500.40" x2="242.90" y2="503.80" stroke="#000" stroke-width="1.2"/>
<text x="242.90" y="513.10" font-size="7.4" fill="#231f20" text-anchor="middle" class="xl" stroke="#231f20" stroke-width="0.12">10</text>
<line x1="260.85" y1="500.40" x2="260.85" y2="503.80" stroke="#000" stroke-width="1.2"/>
<text x="260.85" y="513.10" font-size="7.4" fill="#231f20" text-anchor="middle" class="xl" stroke="#231f20" stroke-width="0.12">11</text>
<line x1="278.80" y1="500.40" x2="278.80" y2="503.80" stroke="#000" stroke-width="1.2"/>
<text x="278.80" y="513.10" font-size="7.4" fill="#231f20" text-anchor="middle" class="xl" stroke="#231f20" stroke-width="0.12">12</text>
<line x1="296.75" y1="500.40" x2="296.75" y2="503.80" stroke="#000" stroke-width="1.2"/>
<text x="296.75" y="513.10" font-size="7.4" fill="#231f20" text-anchor="middle" class="xl" stroke="#231f20" stroke-width="0.12">13</text>
<line x1="314.70" y1="500.40" x2="314.70" y2="503.80" stroke="#000" stroke-width="1.2"/>
<text x="314.70" y="513.10" font-size="7.4" fill="#231f20" text-anchor="middle" class="xl" stroke="#231f20" stroke-width="0.12">14</text>
<line x1="332.65" y1="500.40" x2="332.65" y2="503.80" stroke="#000" stroke-width="1.2"/>
<text x="332.65" y="513.10" font-size="7.4" fill="#231f20" text-anchor="middle" class="xl" stroke="#231f20" stroke-width="0.12">15</text>
<line x1="350.60" y1="500.40" x2="350.60" y2="503.80" stroke="#000" stroke-width="1.2"/>
<text x="350.60" y="513.10" font-size="7.4" fill="#231f20" text-anchor="middle" class="xl" stroke="#231f20" stroke-width="0.12">16</text>
<line x1="368.55" y1="500.40" x2="368.55" y2="503.80" stroke="#000" stroke-width="1.2"/>
<text x="368.55" y="513.10" font-size="7.4" fill="#231f20" text-anchor="middle" class="xl" stroke="#231f20" stroke-width="0.12">17</text>
<line x1="386.50" y1="500.40" x2="386.50" y2="503.80" stroke="#000" stroke-width="1.2"/>
<text x="386.50" y="513.10" font-size="7.4" fill="#231f20" text-anchor="middle" class="xl" stroke="#231f20" stroke-width="0.12">18</text>
<line x1="404.45" y1="500.40" x2="404.45" y2="503.80" stroke="#000" stroke-width="1.2"/>
<text x="404.45" y="513.10" font-size="7.4" fill="#231f20" text-anchor="middle" class="xl" stroke="#231f20" stroke-width="0.12">19</text>
<line x1="422.40" y1="500.40" x2="422.40" y2="503.80" stroke="#000" stroke-width="1.2"/>
<text x="422.40" y="513.10" font-size="7.4" fill="#231f20" text-anchor="middle" class="xl" stroke="#231f20" stroke-width="0.12">20</text>
<line x1="440.35" y1="500.40" x2="440.35" y2="503.80" stroke="#000" stroke-width="1.2"/>
<text x="440.35" y="513.10" font-size="7.4" fill="#231f20" text-anchor="middle" class="xl" stroke="#231f20" stroke-width="0.12">21</text>
<line x1="458.30" y1="500.40" x2="458.30" y2="503.80" stroke="#000" stroke-width="1.2"/>
<text x="458.30" y="513.10" font-size="7.4" fill="#231f20" text-anchor="middle" class="xl" stroke="#231f20" stroke-width="0.12">22</text>
<line x1="476.25" y1="500.40" x2="476.25" y2="503.80" stroke="#000" stroke-width="1.2"/>
<text x="476.25" y="513.10" font-size="7.4" fill="#231f20" text-anchor="middle" class="xl" stroke="#231f20" stroke-width="0.12">23</text>
<line x1="494.20" y1="500.40" x2="494.20" y2="503.80" stroke="#000" stroke-width="1.2"/>
<text x="494.20" y="513.10" font-size="7.4" fill="#231f20" text-anchor="middle" class="xl" stroke="#231f20" stroke-width="0.12">24</text>
<text x="256.00" y="526.90" font-size="10.6" fill="#231f20" text-anchor="start" textLength="45.60" lengthAdjust="spacingAndGlyphs" class="at" stroke="#231f20" stroke-width="0.12">Time, months</text>
<text class="yt" transform="translate(29.5 447.00) rotate(-90)" font-size="10.8" fill="#231f20" text-anchor="middle" textLength="22.3" lengthAdjust="spacingAndGlyphs">RFS, %</text>
<line x1="450.20" y1="392.20" x2="450.20" y2="432.40" stroke="#000" stroke-width="1.1"/>
<line x1="410.80" y1="409.10" x2="512.00" y2="409.10" stroke="#000" stroke-width="1.1"/>
<text x="415.40" y="405.80" font-size="6.3" fill="#231f20" text-anchor="start" textLength="13.60" lengthAdjust="spacingAndGlyphs" stroke="#231f20" stroke-width="0.12">Dose</text>
<text x="482.10" y="398.50" font-size="6.3" fill="#231f20" text-anchor="middle" textLength="34.40" lengthAdjust="spacingAndGlyphs" stroke="#231f20" stroke-width="0.12">Median RFS</text>
<text x="482.10" y="405.80" font-size="6.3" fill="#231f20" text-anchor="middle" textLength="34.80" lengthAdjust="spacingAndGlyphs" stroke="#231f20" stroke-width="0.12">(95% CI), mo</text>
<text x="415.40" y="416.20" font-size="6.3" fill="#6cb043" stroke="#6cb043" stroke-width="0.12">2×10<tspan dy="-3.0" font-size="3.6">6</tspan></text>
<text x="482.10" y="416.20" font-size="6.3" fill="#6cb043" text-anchor="middle" textLength="37.40" lengthAdjust="spacingAndGlyphs" stroke="#6cb043" stroke-width="0.12">4.3 (0.03, 15.4)</text>
<text x="415.40" y="423.10" font-size="6.3" fill="#b01c45" stroke="#b01c45" stroke-width="0.12">1×10<tspan dy="-3.0" font-size="3.6">6</tspan></text>
<text x="482.10" y="423.10" font-size="6.3" fill="#b01c45" text-anchor="middle" textLength="35.20" lengthAdjust="spacingAndGlyphs" stroke="#b01c45" stroke-width="0.12">7.7 (3.2, 18.7)</text>
<text x="415.40" y="430.00" font-size="6.3" fill="#3a5a95" stroke="#3a5a95" stroke-width="0.12">0.5×10<tspan dy="-3.0" font-size="3.6">6</tspan></text>
<text x="482.10" y="430.00" font-size="6.3" fill="#3a5a95" text-anchor="middle" textLength="37.40" lengthAdjust="spacingAndGlyphs" stroke="#3a5a95" stroke-width="0.12">9.5 (0.03, 19.1)</text>
<path d="M63.8 430.4 H140.8 V462.0 H163.2 V477.9 H339.5 V493.6" fill="none" stroke="#62a836" stroke-width="1.75" stroke-linejoin="miter" stroke-linecap="butt"/>
<path d="M63.8 415.1 H101.3 V419.4 H112.7 V423.8 H120.2 V428.6 H193.6 V437.9 H202.0 V447.2 H246.3 V456.5 H398.5 V493.6" fill="none" stroke="#a50a35" stroke-width="1.75" stroke-linejoin="miter" stroke-linecap="butt"/>
<line x1="101.80" y1="417.30" x2="101.80" y2="421.50" stroke="#a50a35" stroke-width="1.3"/>
<line x1="114.60" y1="421.70" x2="114.60" y2="425.90" stroke="#a50a35" stroke-width="1.3"/>
<line x1="118.00" y1="421.70" x2="118.00" y2="425.90" stroke="#a50a35" stroke-width="1.3"/>
<line x1="168.50" y1="426.50" x2="168.50" y2="430.70" stroke="#a50a35" stroke-width="1.3"/>
<line x1="172.30" y1="426.50" x2="172.30" y2="430.70" stroke="#a50a35" stroke-width="1.3"/>
<line x1="173.30" y1="426.50" x2="173.30" y2="430.70" stroke="#a50a35" stroke-width="1.3"/>
<line x1="180.40" y1="426.50" x2="180.40" y2="430.70" stroke="#a50a35" stroke-width="1.3"/>
<line x1="185.20" y1="426.50" x2="185.20" y2="430.70" stroke="#a50a35" stroke-width="1.3"/>
<line x1="282.90" y1="454.40" x2="282.90" y2="458.60" stroke="#a50a35" stroke-width="1.3"/>
<line x1="386.90" y1="454.40" x2="386.90" y2="458.60" stroke="#a50a35" stroke-width="1.3"/>
<line x1="390.80" y1="454.40" x2="390.80" y2="458.60" stroke="#a50a35" stroke-width="1.3"/>
<path d="M63.8 398.0 V446.2 H405.8 V493.6" fill="none" stroke="#1f3d78" stroke-width="1.75" stroke-linejoin="miter" stroke-linecap="butt"/>
<line x1="80.60" y1="444.10" x2="80.60" y2="448.30" stroke="#1f3d78" stroke-width="1.3"/>
<line x1="100.60" y1="444.10" x2="100.60" y2="448.30" stroke="#1f3d78" stroke-width="1.3"/>
<line x1="114.60" y1="444.10" x2="114.60" y2="448.30" stroke="#1f3d78" stroke-width="1.3"/>
<line x1="135.00" y1="444.10" x2="135.00" y2="448.30" stroke="#1f3d78" stroke-width="1.3"/>
<line x1="164.20" y1="444.10" x2="164.20" y2="448.30" stroke="#1f3d78" stroke-width="1.3"/>
<line x1="279.10" y1="444.10" x2="279.10" y2="448.30" stroke="#1f3d78" stroke-width="1.3"/>
<text x="34.40" y="534.50" font-size="7.2" fill="#231f20" text-anchor="start" textLength="48.60" lengthAdjust="spacingAndGlyphs" stroke="#231f20" stroke-width="0.12">Patients at Risk</text>
<text x="63.40" y="544.70" font-size="6.0" fill="#6cb043" text-anchor="middle" class="ar" stroke="#6cb043" stroke-width="0.06">6</text>
<text x="81.35" y="544.70" font-size="6.0" fill="#6cb043" text-anchor="middle" class="ar" stroke="#6cb043" stroke-width="0.06">4</text>
<text x="99.30" y="544.70" font-size="6.0" fill="#6cb043" text-anchor="middle" class="ar" stroke="#6cb043" stroke-width="0.06">4</text>
<text x="117.25" y="544.70" font-size="6.0" fill="#6cb043" text-anchor="middle" class="ar" stroke="#6cb043" stroke-width="0.06">4</text>
<text x="135.20" y="544.70" font-size="6.0" fill="#6cb043" text-anchor="middle" class="ar" stroke="#6cb043" stroke-width="0.06">4</text>
<text x="153.15" y="544.70" font-size="6.0" fill="#6cb043" text-anchor="middle" class="ar" stroke="#6cb043" stroke-width="0.06">2</text>
<text x="171.10" y="544.70" font-size="6.0" fill="#6cb043" text-anchor="middle" class="ar" stroke="#6cb043" stroke-width="0.06">1</text>
<text x="189.05" y="544.70" font-size="6.0" fill="#6cb043" text-anchor="middle" class="ar" stroke="#6cb043" stroke-width="0.06">1</text>
<text x="207.00" y="544.70" font-size="6.0" fill="#6cb043" text-anchor="middle" class="ar" stroke="#6cb043" stroke-width="0.06">1</text>
<text x="224.95" y="544.70" font-size="6.0" fill="#6cb043" text-anchor="middle" class="ar" stroke="#6cb043" stroke-width="0.06">1</text>
<text x="242.90" y="544.70" font-size="6.0" fill="#6cb043" text-anchor="middle" class="ar" stroke="#6cb043" stroke-width="0.06">1</text>
<text x="260.85" y="544.70" font-size="6.0" fill="#6cb043" text-anchor="middle" class="ar" stroke="#6cb043" stroke-width="0.06">1</text>
<text x="278.80" y="544.70" font-size="6.0" fill="#6cb043" text-anchor="middle" class="ar" stroke="#6cb043" stroke-width="0.06">1</text>
<text x="296.75" y="544.70" font-size="6.0" fill="#6cb043" text-anchor="middle" class="ar" stroke="#6cb043" stroke-width="0.06">1</text>
<text x="314.70" y="544.70" font-size="6.0" fill="#6cb043" text-anchor="middle" class="ar" stroke="#6cb043" stroke-width="0.06">1</text>
<text x="332.65" y="544.70" font-size="6.0" fill="#6cb043" text-anchor="middle" class="ar" stroke="#6cb043" stroke-width="0.06">1</text>
<text x="350.60" y="544.70" font-size="6.0" fill="#6cb043" text-anchor="middle" class="ar" stroke="#6cb043" stroke-width="0.06">0</text>
<text x="63.40" y="551.60" font-size="6.0" fill="#b01c45" text-anchor="middle" class="ar" stroke="#b01c45" stroke-width="0.06">23</text>
<text x="81.35" y="551.60" font-size="6.0" fill="#b01c45" text-anchor="middle" class="ar" stroke="#b01c45" stroke-width="0.06">19</text>
<text x="99.30" y="551.60" font-size="6.0" fill="#b01c45" text-anchor="middle" class="ar" stroke="#b01c45" stroke-width="0.06">19</text>
<text x="117.25" y="551.60" font-size="6.0" fill="#b01c45" text-anchor="middle" class="ar" stroke="#b01c45" stroke-width="0.06">15</text>
<text x="135.20" y="551.60" font-size="6.0" fill="#b01c45" text-anchor="middle" class="ar" stroke="#b01c45" stroke-width="0.06">13</text>
<text x="153.15" y="551.60" font-size="6.0" fill="#b01c45" text-anchor="middle" class="ar" stroke="#b01c45" stroke-width="0.06">13</text>
<text x="171.10" y="551.60" font-size="6.0" fill="#b01c45" text-anchor="middle" class="ar" stroke="#b01c45" stroke-width="0.06">12</text>
<text x="189.05" y="551.60" font-size="6.0" fill="#b01c45" text-anchor="middle" class="ar" stroke="#b01c45" stroke-width="0.06">7</text>
<text x="207.00" y="551.60" font-size="6.0" fill="#b01c45" text-anchor="middle" class="ar" stroke="#b01c45" stroke-width="0.06">5</text>
<text x="224.95" y="551.60" font-size="6.0" fill="#b01c45" text-anchor="middle" class="ar" stroke="#b01c45" stroke-width="0.06">5</text>
<text x="242.90" y="551.60" font-size="6.0" fill="#b01c45" text-anchor="middle" class="ar" stroke="#b01c45" stroke-width="0.06">5</text>
<text x="260.85" y="551.60" font-size="6.0" fill="#b01c45" text-anchor="middle" class="ar" stroke="#b01c45" stroke-width="0.06">4</text>
<text x="278.80" y="551.60" font-size="6.0" fill="#b01c45" text-anchor="middle" class="ar" stroke="#b01c45" stroke-width="0.06">4</text>
<text x="296.75" y="551.60" font-size="6.0" fill="#b01c45" text-anchor="middle" class="ar" stroke="#b01c45" stroke-width="0.06">3</text>
<text x="314.70" y="551.60" font-size="6.0" fill="#b01c45" text-anchor="middle" class="ar" stroke="#b01c45" stroke-width="0.06">3</text>
<text x="332.65" y="551.60" font-size="6.0" fill="#b01c45" text-anchor="middle" class="ar" stroke="#b01c45" stroke-width="0.06">3</text>
<text x="350.60" y="551.60" font-size="6.0" fill="#b01c45" text-anchor="middle" class="ar" stroke="#b01c45" stroke-width="0.06">3</text>
<text x="368.55" y="551.60" font-size="6.0" fill="#b01c45" text-anchor="middle" class="ar" stroke="#b01c45" stroke-width="0.06">3</text>
<text x="386.50" y="551.60" font-size="6.0" fill="#b01c45" text-anchor="middle" class="ar" stroke="#b01c45" stroke-width="0.06">3</text>
<text x="404.45" y="551.60" font-size="6.0" fill="#b01c45" text-anchor="middle" class="ar" stroke="#b01c45" stroke-width="0.06">0</text>
<text x="63.40" y="558.90" font-size="6.0" fill="#3a5a95" text-anchor="middle" class="ar" stroke="#3a5a95" stroke-width="0.06">16</text>
<text x="81.35" y="558.90" font-size="6.0" fill="#3a5a95" text-anchor="middle" class="ar" stroke="#3a5a95" stroke-width="0.06">7</text>
<text x="99.30" y="558.90" font-size="6.0" fill="#3a5a95" text-anchor="middle" class="ar" stroke="#3a5a95" stroke-width="0.06">7</text>
<text x="117.25" y="558.90" font-size="6.0" fill="#3a5a95" text-anchor="middle" class="ar" stroke="#3a5a95" stroke-width="0.06">5</text>
<text x="135.20" y="558.90" font-size="6.0" fill="#3a5a95" text-anchor="middle" class="ar" stroke="#3a5a95" stroke-width="0.06">4</text>
<text x="153.15" y="558.90" font-size="6.0" fill="#3a5a95" text-anchor="middle" class="ar" stroke="#3a5a95" stroke-width="0.06">4</text>
<text x="171.10" y="558.90" font-size="6.0" fill="#3a5a95" text-anchor="middle" class="ar" stroke="#3a5a95" stroke-width="0.06">3</text>
<text x="189.05" y="558.90" font-size="6.0" fill="#3a5a95" text-anchor="middle" class="ar" stroke="#3a5a95" stroke-width="0.06">3</text>
<text x="207.00" y="558.90" font-size="6.0" fill="#3a5a95" text-anchor="middle" class="ar" stroke="#3a5a95" stroke-width="0.06">3</text>
<text x="224.95" y="558.90" font-size="6.0" fill="#3a5a95" text-anchor="middle" class="ar" stroke="#3a5a95" stroke-width="0.06">3</text>
<text x="242.90" y="558.90" font-size="6.0" fill="#3a5a95" text-anchor="middle" class="ar" stroke="#3a5a95" stroke-width="0.06">3</text>
<text x="260.85" y="558.90" font-size="6.0" fill="#3a5a95" text-anchor="middle" class="ar" stroke="#3a5a95" stroke-width="0.06">3</text>
<text x="278.80" y="558.90" font-size="6.0" fill="#3a5a95" text-anchor="middle" class="ar" stroke="#3a5a95" stroke-width="0.06">2</text>
<text x="296.75" y="558.90" font-size="6.0" fill="#3a5a95" text-anchor="middle" class="ar" stroke="#3a5a95" stroke-width="0.06">1</text>
<text x="314.70" y="558.90" font-size="6.0" fill="#3a5a95" text-anchor="middle" class="ar" stroke="#3a5a95" stroke-width="0.06">1</text>
<text x="332.65" y="558.90" font-size="6.0" fill="#3a5a95" text-anchor="middle" class="ar" stroke="#3a5a95" stroke-width="0.06">1</text>
<text x="350.60" y="558.90" font-size="6.0" fill="#3a5a95" text-anchor="middle" class="ar" stroke="#3a5a95" stroke-width="0.06">1</text>
<text x="368.55" y="558.90" font-size="6.0" fill="#3a5a95" text-anchor="middle" class="ar" stroke="#3a5a95" stroke-width="0.06">1</text>
<text x="386.50" y="558.90" font-size="6.0" fill="#3a5a95" text-anchor="middle" class="ar" stroke="#3a5a95" stroke-width="0.06">1</text>
<text x="404.45" y="558.90" font-size="6.0" fill="#3a5a95" text-anchor="middle" class="ar" stroke="#3a5a95" stroke-width="0.06">1</text>
<text x="422.40" y="558.90" font-size="6.0" fill="#3a5a95" text-anchor="middle" class="ar" stroke="#3a5a95" stroke-width="0.06">0</text>
<text x="8.2" y="582.2" font-size="13.8" font-weight="bold" fill="#000">D</text>
<line x1="53.35" y1="577.40" x2="53.35" y2="684.35" stroke="#000" stroke-width="1.5"/>
<line x1="52.60" y1="683.70" x2="504.50" y2="683.70" stroke="#000" stroke-width="1.5"/>
<line x1="50.00" y1="677.20" x2="53.50" y2="677.20" stroke="#000" stroke-width="1.2"/>
<text x="46.60" y="679.80" font-size="7.5" fill="#231f20" text-anchor="end" class="yl" stroke="#231f20" stroke-width="0.12">0</text>
<line x1="50.00" y1="658.08" x2="53.50" y2="658.08" stroke="#000" stroke-width="1.2"/>
<text x="46.60" y="660.68" font-size="7.5" fill="#231f20" text-anchor="end" class="yl" stroke="#231f20" stroke-width="0.12">20</text>
<line x1="50.00" y1="638.96" x2="53.50" y2="638.96" stroke="#000" stroke-width="1.2"/>
<text x="46.60" y="641.56" font-size="7.5" fill="#231f20" text-anchor="end" class="yl" stroke="#231f20" stroke-width="0.12">40</text>
<line x1="50.00" y1="619.84" x2="53.50" y2="619.84" stroke="#000" stroke-width="1.2"/>
<text x="46.60" y="622.44" font-size="7.5" fill="#231f20" text-anchor="end" class="yl" stroke="#231f20" stroke-width="0.12">60</text>
<line x1="50.00" y1="600.72" x2="53.50" y2="600.72" stroke="#000" stroke-width="1.2"/>
<text x="46.60" y="603.32" font-size="7.5" fill="#231f20" text-anchor="end" class="yl" stroke="#231f20" stroke-width="0.12">80</text>
<line x1="50.00" y1="581.60" x2="53.50" y2="581.60" stroke="#000" stroke-width="1.2"/>
<text x="46.60" y="584.20" font-size="7.5" fill="#231f20" text-anchor="end" class="yl" stroke="#231f20" stroke-width="0.12">100</text>
<line x1="63.40" y1="683.60" x2="63.40" y2="687.00" stroke="#000" stroke-width="1.2"/>
<text x="63.40" y="696.30" font-size="7.4" fill="#231f20" text-anchor="middle" class="xl" stroke="#231f20" stroke-width="0.12">0</text>
<line x1="88.73" y1="683.60" x2="88.73" y2="687.00" stroke="#000" stroke-width="1.2"/>
<text x="88.73" y="696.30" font-size="7.4" fill="#231f20" text-anchor="middle" class="xl" stroke="#231f20" stroke-width="0.12">2</text>
<line x1="114.06" y1="683.60" x2="114.06" y2="687.00" stroke="#000" stroke-width="1.2"/>
<text x="114.06" y="696.30" font-size="7.4" fill="#231f20" text-anchor="middle" class="xl" stroke="#231f20" stroke-width="0.12">4</text>
<line x1="139.39" y1="683.60" x2="139.39" y2="687.00" stroke="#000" stroke-width="1.2"/>
<text x="139.39" y="696.30" font-size="7.4" fill="#231f20" text-anchor="middle" class="xl" stroke="#231f20" stroke-width="0.12">6</text>
<line x1="164.72" y1="683.60" x2="164.72" y2="687.00" stroke="#000" stroke-width="1.2"/>
<text x="164.72" y="696.30" font-size="7.4" fill="#231f20" text-anchor="middle" class="xl" stroke="#231f20" stroke-width="0.12">8</text>
<line x1="190.05" y1="683.60" x2="190.05" y2="687.00" stroke="#000" stroke-width="1.2"/>
<text x="190.05" y="696.30" font-size="7.4" fill="#231f20" text-anchor="middle" class="xl" stroke="#231f20" stroke-width="0.12">10</text>
<line x1="215.38" y1="683.60" x2="215.38" y2="687.00" stroke="#000" stroke-width="1.2"/>
<text x="215.38" y="696.30" font-size="7.4" fill="#231f20" text-anchor="middle" class="xl" stroke="#231f20" stroke-width="0.12">12</text>
<line x1="240.71" y1="683.60" x2="240.71" y2="687.00" stroke="#000" stroke-width="1.2"/>
<text x="240.71" y="696.30" font-size="7.4" fill="#231f20" text-anchor="middle" class="xl" stroke="#231f20" stroke-width="0.12">14</text>
<line x1="266.04" y1="683.60" x2="266.04" y2="687.00" stroke="#000" stroke-width="1.2"/>
<text x="266.04" y="696.30" font-size="7.4" fill="#231f20" text-anchor="middle" class="xl" stroke="#231f20" stroke-width="0.12">16</text>
<line x1="291.37" y1="683.60" x2="291.37" y2="687.00" stroke="#000" stroke-width="1.2"/>
<text x="291.37" y="696.30" font-size="7.4" fill="#231f20" text-anchor="middle" class="xl" stroke="#231f20" stroke-width="0.12">18</text>
<line x1="316.70" y1="683.60" x2="316.70" y2="687.00" stroke="#000" stroke-width="1.2"/>
<text x="316.70" y="696.30" font-size="7.4" fill="#231f20" text-anchor="middle" class="xl" stroke="#231f20" stroke-width="0.12">20</text>
<line x1="342.03" y1="683.60" x2="342.03" y2="687.00" stroke="#000" stroke-width="1.2"/>
<text x="342.03" y="696.30" font-size="7.4" fill="#231f20" text-anchor="middle" class="xl" stroke="#231f20" stroke-width="0.12">22</text>
<line x1="367.36" y1="683.60" x2="367.36" y2="687.00" stroke="#000" stroke-width="1.2"/>
<text x="367.36" y="696.30" font-size="7.4" fill="#231f20" text-anchor="middle" class="xl" stroke="#231f20" stroke-width="0.12">24</text>
<line x1="392.69" y1="683.60" x2="392.69" y2="687.00" stroke="#000" stroke-width="1.2"/>
<text x="392.69" y="696.30" font-size="7.4" fill="#231f20" text-anchor="middle" class="xl" stroke="#231f20" stroke-width="0.12">26</text>
<line x1="418.02" y1="683.60" x2="418.02" y2="687.00" stroke="#000" stroke-width="1.2"/>
<text x="418.02" y="696.30" font-size="7.4" fill="#231f20" text-anchor="middle" class="xl" stroke="#231f20" stroke-width="0.12">28</text>
<line x1="443.35" y1="683.60" x2="443.35" y2="687.00" stroke="#000" stroke-width="1.2"/>
<text x="443.35" y="696.30" font-size="7.4" fill="#231f20" text-anchor="middle" class="xl" stroke="#231f20" stroke-width="0.12">30</text>
<line x1="468.68" y1="683.60" x2="468.68" y2="687.00" stroke="#000" stroke-width="1.2"/>
<text x="468.68" y="696.30" font-size="7.4" fill="#231f20" text-anchor="middle" class="xl" stroke="#231f20" stroke-width="0.12">32</text>
<line x1="494.01" y1="683.60" x2="494.01" y2="687.00" stroke="#000" stroke-width="1.2"/>
<text x="494.01" y="696.30" font-size="7.4" fill="#231f20" text-anchor="middle" class="xl" stroke="#231f20" stroke-width="0.12">34</text>
<text x="256.00" y="710.10" font-size="10.6" fill="#231f20" text-anchor="start" textLength="45.60" lengthAdjust="spacingAndGlyphs" class="at" stroke="#231f20" stroke-width="0.12">Time, months</text>
<text class="yt" transform="translate(29.5 630.20) rotate(-90)" font-size="10.8" fill="#231f20" text-anchor="middle" textLength="19.6" lengthAdjust="spacingAndGlyphs">OS, %</text>
<line x1="450.20" y1="575.20" x2="450.20" y2="615.40" stroke="#000" stroke-width="1.1"/>
<line x1="410.80" y1="592.10" x2="512.00" y2="592.10" stroke="#000" stroke-width="1.1"/>
<text x="415.40" y="588.80" font-size="6.3" fill="#231f20" text-anchor="start" textLength="13.60" lengthAdjust="spacingAndGlyphs" stroke="#231f20" stroke-width="0.12">Dose</text>
<text x="482.10" y="581.50" font-size="6.3" fill="#231f20" text-anchor="middle" textLength="29.00" lengthAdjust="spacingAndGlyphs" stroke="#231f20" stroke-width="0.12">Median OS</text>
<text x="482.10" y="588.80" font-size="6.3" fill="#231f20" text-anchor="middle" textLength="34.80" lengthAdjust="spacingAndGlyphs" stroke="#231f20" stroke-width="0.12">(95% CI), mo</text>
<text x="415.40" y="599.20" font-size="6.3" fill="#6cb043" stroke="#6cb043" stroke-width="0.12">2×10<tspan dy="-3.0" font-size="3.6">6</tspan></text>
<text x="482.10" y="599.20" font-size="6.3" fill="#6cb043" text-anchor="middle" textLength="33.00" lengthAdjust="spacingAndGlyphs" stroke="#6cb043" stroke-width="0.12">9.7 (0.2, NE)</text>
<text x="415.40" y="606.10" font-size="6.3" fill="#b01c45" stroke="#b01c45" stroke-width="0.12">1×10<tspan dy="-3.0" font-size="3.6">6</tspan></text>
<text x="482.10" y="606.10" font-size="6.3" fill="#b01c45" text-anchor="middle" textLength="36.20" lengthAdjust="spacingAndGlyphs" stroke="#b01c45" stroke-width="0.12">16.1 (10.2, NE)</text>
<text x="415.40" y="613.00" font-size="6.3" fill="#3a5a95" stroke="#3a5a95" stroke-width="0.12">0.5×10<tspan dy="-3.0" font-size="3.6">6</tspan></text>
<text x="482.10" y="613.00" font-size="6.3" fill="#3a5a95" text-anchor="middle" textLength="32.60" lengthAdjust="spacingAndGlyphs" stroke="#3a5a95" stroke-width="0.12">4.8 (2.1, 19.1)</text>
<path d="M63.5 581.6 H66.5 V597.6 H134.6 V613.3 H178.3 V629.3 H194.4 V645.3 H207.7 V661.1 H469.5" fill="none" stroke="#62a836" stroke-width="1.75" stroke-linejoin="miter" stroke-linecap="butt"/>
<line x1="469.50" y1="659.00" x2="469.50" y2="663.20" stroke="#62a836" stroke-width="1.3"/>
<path d="M66.0 581.6 H84.6 V585.7 H91.2 V589.9 H115.2 V594.1 H132.1 V598.8 H192.3 V605.4 H202.0 V611.9 H229.0 V618.7 H246.3 V625.2 H267.4 V632.6 H357.6 V654.7 H444.6" fill="none" stroke="#a50a35" stroke-width="1.75" stroke-linejoin="miter" stroke-linecap="butt"/>
<line x1="101.90" y1="587.80" x2="101.90" y2="592.00" stroke="#a50a35" stroke-width="1.3"/>
<line x1="107.30" y1="587.80" x2="107.30" y2="592.00" stroke="#a50a35" stroke-width="1.3"/>
<line x1="136.90" y1="596.70" x2="136.90" y2="600.90" stroke="#a50a35" stroke-width="1.3"/>
<line x1="139.20" y1="596.70" x2="139.20" y2="600.90" stroke="#a50a35" stroke-width="1.3"/>
<line x1="145.60" y1="596.70" x2="145.60" y2="600.90" stroke="#a50a35" stroke-width="1.3"/>
<line x1="259.20" y1="623.10" x2="259.20" y2="627.30" stroke="#a50a35" stroke-width="1.3"/>
<line x1="291.50" y1="630.50" x2="291.50" y2="634.70" stroke="#a50a35" stroke-width="1.3"/>
<line x1="294.40" y1="630.50" x2="294.40" y2="634.70" stroke="#a50a35" stroke-width="1.3"/>
<line x1="300.20" y1="630.50" x2="300.20" y2="634.70" stroke="#a50a35" stroke-width="1.3"/>
<line x1="444.60" y1="652.60" x2="444.60" y2="656.80" stroke="#a50a35" stroke-width="1.3"/>
<path d="M63.0 581.6 H66.9 V587.8 H82.5 V593.8 H84.0 V599.5 H90.2 V605.4 H91.0 V611.2 H91.4 V617.3 H99.2 V623.3 H106.9 V629.3 H141.3 V635.3 H216.6 V643.9 H304.8 V660.5 H326.1" fill="none" stroke="#1f3d78" stroke-width="1.75" stroke-linejoin="miter" stroke-linecap="butt"/>
<line x1="216.30" y1="633.20" x2="216.30" y2="637.40" stroke="#1f3d78" stroke-width="1.3"/>
<line x1="293.80" y1="641.80" x2="293.80" y2="646.00" stroke="#1f3d78" stroke-width="1.3"/>
<line x1="296.70" y1="641.80" x2="296.70" y2="646.00" stroke="#1f3d78" stroke-width="1.3"/>
<line x1="326.10" y1="658.40" x2="326.10" y2="662.60" stroke="#1f3d78" stroke-width="1.3"/>
<text x="34.40" y="717.90" font-size="7.2" fill="#231f20" text-anchor="start" textLength="48.60" lengthAdjust="spacingAndGlyphs" stroke="#231f20" stroke-width="0.12">Patients at Risk</text>
<text x="63.40" y="728.10" font-size="6.0" fill="#6cb043" text-anchor="middle" class="ar" stroke="#6cb043" stroke-width="0.06">6</text>
<text x="76.06" y="728.10" font-size="6.0" fill="#6cb043" text-anchor="middle" class="ar" stroke="#6cb043" stroke-width="0.06">5</text>
<text x="88.73" y="728.10" font-size="6.0" fill="#6cb043" text-anchor="middle" class="ar" stroke="#6cb043" stroke-width="0.06">5</text>
<text x="101.39" y="728.10" font-size="6.0" fill="#6cb043" text-anchor="middle" class="ar" stroke="#6cb043" stroke-width="0.06">5</text>
<text x="114.06" y="728.10" font-size="6.0" fill="#6cb043" text-anchor="middle" class="ar" stroke="#6cb043" stroke-width="0.06">5</text>
<text x="126.72" y="728.10" font-size="6.0" fill="#6cb043" text-anchor="middle" class="ar" stroke="#6cb043" stroke-width="0.06">5</text>
<text x="139.39" y="728.10" font-size="6.0" fill="#6cb043" text-anchor="middle" class="ar" stroke="#6cb043" stroke-width="0.06">4</text>
<text x="152.06" y="728.10" font-size="6.0" fill="#6cb043" text-anchor="middle" class="ar" stroke="#6cb043" stroke-width="0.06">4</text>
<text x="164.72" y="728.10" font-size="6.0" fill="#6cb043" text-anchor="middle" class="ar" stroke="#6cb043" stroke-width="0.06">4</text>
<text x="177.38" y="728.10" font-size="6.0" fill="#6cb043" text-anchor="middle" class="ar" stroke="#6cb043" stroke-width="0.06">4</text>
<text x="190.05" y="728.10" font-size="6.0" fill="#6cb043" text-anchor="middle" class="ar" stroke="#6cb043" stroke-width="0.06">3</text>
<text x="202.72" y="728.10" font-size="6.0" fill="#6cb043" text-anchor="middle" class="ar" stroke="#6cb043" stroke-width="0.06">2</text>
<text x="215.38" y="728.10" font-size="6.0" fill="#6cb043" text-anchor="middle" class="ar" stroke="#6cb043" stroke-width="0.06">1</text>
<text x="228.04" y="728.10" font-size="6.0" fill="#6cb043" text-anchor="middle" class="ar" stroke="#6cb043" stroke-width="0.06">1</text>
<text x="240.71" y="728.10" font-size="6.0" fill="#6cb043" text-anchor="middle" class="ar" stroke="#6cb043" stroke-width="0.06">1</text>
<text x="253.38" y="728.10" font-size="6.0" fill="#6cb043" text-anchor="middle" class="ar" stroke="#6cb043" stroke-width="0.06">1</text>
<text x="266.04" y="728.10" font-size="6.0" fill="#6cb043" text-anchor="middle" class="ar" stroke="#6cb043" stroke-width="0.06">1</text>
<text x="278.70" y="728.10" font-size="6.0" fill="#6cb043" text-anchor="middle" class="ar" stroke="#6cb043" stroke-width="0.06">1</text>
<text x="291.37" y="728.10" font-size="6.0" fill="#6cb043" text-anchor="middle" class="ar" stroke="#6cb043" stroke-width="0.06">1</text>
<text x="304.03" y="728.10" font-size="6.0" fill="#6cb043" text-anchor="middle" class="ar" stroke="#6cb043" stroke-width="0.06">1</text>
<text x="316.70" y="728.10" font-size="6.0" fill="#6cb043" text-anchor="middle" class="ar" stroke="#6cb043" stroke-width="0.06">1</text>
<text x="329.36" y="728.10" font-size="6.0" fill="#6cb043" text-anchor="middle" class="ar" stroke="#6cb043" stroke-width="0.06">1</text>
<text x="342.03" y="728.10" font-size="6.0" fill="#6cb043" text-anchor="middle" class="ar" stroke="#6cb043" stroke-width="0.06">1</text>
<text x="354.69" y="728.10" font-size="6.0" fill="#6cb043" text-anchor="middle" class="ar" stroke="#6cb043" stroke-width="0.06">1</text>
<text x="367.36" y="728.10" font-size="6.0" fill="#6cb043" text-anchor="middle" class="ar" stroke="#6cb043" stroke-width="0.06">1</text>
<text x="380.02" y="728.10" font-size="6.0" fill="#6cb043" text-anchor="middle" class="ar" stroke="#6cb043" stroke-width="0.06">1</text>
<text x="392.69" y="728.10" font-size="6.0" fill="#6cb043" text-anchor="middle" class="ar" stroke="#6cb043" stroke-width="0.06">1</text>
<text x="405.35" y="728.10" font-size="6.0" fill="#6cb043" text-anchor="middle" class="ar" stroke="#6cb043" stroke-width="0.06">1</text>
<text x="418.02" y="728.10" font-size="6.0" fill="#6cb043" text-anchor="middle" class="ar" stroke="#6cb043" stroke-width="0.06">1</text>
<text x="430.68" y="728.10" font-size="6.0" fill="#6cb043" text-anchor="middle" class="ar" stroke="#6cb043" stroke-width="0.06">1</text>
<text x="443.35" y="728.10" font-size="6.0" fill="#6cb043" text-anchor="middle" class="ar" stroke="#6cb043" stroke-width="0.06">1</text>
<text x="456.01" y="728.10" font-size="6.0" fill="#6cb043" text-anchor="middle" class="ar" stroke="#6cb043" stroke-width="0.06">1</text>
<text x="468.68" y="728.10" font-size="6.0" fill="#6cb043" text-anchor="middle" class="ar" stroke="#6cb043" stroke-width="0.06">0</text>
<text x="63.40" y="735.00" font-size="6.0" fill="#b01c45" text-anchor="middle" class="ar" stroke="#b01c45" stroke-width="0.06">23</text>
<text x="76.06" y="735.00" font-size="6.0" fill="#b01c45" text-anchor="middle" class="ar" stroke="#b01c45" stroke-width="0.06">23</text>
<text x="88.73" y="735.00" font-size="6.0" fill="#b01c45" text-anchor="middle" class="ar" stroke="#b01c45" stroke-width="0.06">22</text>
<text x="101.39" y="735.00" font-size="6.0" fill="#b01c45" text-anchor="middle" class="ar" stroke="#b01c45" stroke-width="0.06">21</text>
<text x="114.06" y="735.00" font-size="6.0" fill="#b01c45" text-anchor="middle" class="ar" stroke="#b01c45" stroke-width="0.06">19</text>
<text x="126.72" y="735.00" font-size="6.0" fill="#b01c45" text-anchor="middle" class="ar" stroke="#b01c45" stroke-width="0.06">18</text>
<text x="139.39" y="735.00" font-size="6.0" fill="#b01c45" text-anchor="middle" class="ar" stroke="#b01c45" stroke-width="0.06">16</text>
<text x="152.06" y="735.00" font-size="6.0" fill="#b01c45" text-anchor="middle" class="ar" stroke="#b01c45" stroke-width="0.06">12</text>
<text x="164.72" y="735.00" font-size="6.0" fill="#b01c45" text-anchor="middle" class="ar" stroke="#b01c45" stroke-width="0.06">12</text>
<text x="177.38" y="735.00" font-size="6.0" fill="#b01c45" text-anchor="middle" class="ar" stroke="#b01c45" stroke-width="0.06">12</text>
<text x="190.05" y="735.00" font-size="6.0" fill="#b01c45" text-anchor="middle" class="ar" stroke="#b01c45" stroke-width="0.06">12</text>
<text x="202.72" y="735.00" font-size="6.0" fill="#b01c45" text-anchor="middle" class="ar" stroke="#b01c45" stroke-width="0.06">10</text>
<text x="215.38" y="735.00" font-size="6.0" fill="#b01c45" text-anchor="middle" class="ar" stroke="#b01c45" stroke-width="0.06">10</text>
<text x="228.04" y="735.00" font-size="6.0" fill="#b01c45" text-anchor="middle" class="ar" stroke="#b01c45" stroke-width="0.06">10</text>
<text x="240.71" y="735.00" font-size="6.0" fill="#b01c45" text-anchor="middle" class="ar" stroke="#b01c45" stroke-width="0.06">9</text>
<text x="253.38" y="735.00" font-size="6.0" fill="#b01c45" text-anchor="middle" class="ar" stroke="#b01c45" stroke-width="0.06">8</text>
<text x="266.04" y="735.00" font-size="6.0" fill="#b01c45" text-anchor="middle" class="ar" stroke="#b01c45" stroke-width="0.06">7</text>
<text x="278.70" y="735.00" font-size="6.0" fill="#b01c45" text-anchor="middle" class="ar" stroke="#b01c45" stroke-width="0.06">6</text>
<text x="291.37" y="735.00" font-size="6.0" fill="#b01c45" text-anchor="middle" class="ar" stroke="#b01c45" stroke-width="0.06">6</text>
<text x="304.03" y="735.00" font-size="6.0" fill="#b01c45" text-anchor="middle" class="ar" stroke="#b01c45" stroke-width="0.06">2</text>
<text x="316.70" y="735.00" font-size="6.0" fill="#b01c45" text-anchor="middle" class="ar" stroke="#b01c45" stroke-width="0.06">2</text>
<text x="329.36" y="735.00" font-size="6.0" fill="#b01c45" text-anchor="middle" class="ar" stroke="#b01c45" stroke-width="0.06">2</text>
<text x="342.03" y="735.00" font-size="6.0" fill="#b01c45" text-anchor="middle" class="ar" stroke="#b01c45" stroke-width="0.06">2</text>
<text x="354.69" y="735.00" font-size="6.0" fill="#b01c45" text-anchor="middle" class="ar" stroke="#b01c45" stroke-width="0.06">2</text>
<text x="367.36" y="735.00" font-size="6.0" fill="#b01c45" text-anchor="middle" class="ar" stroke="#b01c45" stroke-width="0.06">1</text>
<text x="380.02" y="735.00" font-size="6.0" fill="#b01c45" text-anchor="middle" class="ar" stroke="#b01c45" stroke-width="0.06">1</text>
<text x="392.69" y="735.00" font-size="6.0" fill="#b01c45" text-anchor="middle" class="ar" stroke="#b01c45" stroke-width="0.06">1</text>
<text x="405.35" y="735.00" font-size="6.0" fill="#b01c45" text-anchor="middle" class="ar" stroke="#b01c45" stroke-width="0.06">1</text>
<text x="418.02" y="735.00" font-size="6.0" fill="#b01c45" text-anchor="middle" class="ar" stroke="#b01c45" stroke-width="0.06">1</text>
<text x="430.68" y="735.00" font-size="6.0" fill="#b01c45" text-anchor="middle" class="ar" stroke="#b01c45" stroke-width="0.06">1</text>
<text x="443.35" y="735.00" font-size="6.0" fill="#b01c45" text-anchor="middle" class="ar" stroke="#b01c45" stroke-width="0.06">0</text>
<text x="63.40" y="742.30" font-size="6.0" fill="#3a5a95" text-anchor="middle" class="ar" stroke="#3a5a95" stroke-width="0.06">16</text>
<text x="76.06" y="742.30" font-size="6.0" fill="#3a5a95" text-anchor="middle" class="ar" stroke="#3a5a95" stroke-width="0.06">15</text>
<text x="88.73" y="742.30" font-size="6.0" fill="#3a5a95" text-anchor="middle" class="ar" stroke="#3a5a95" stroke-width="0.06">13</text>
<text x="101.39" y="742.30" font-size="6.0" fill="#3a5a95" text-anchor="middle" class="ar" stroke="#3a5a95" stroke-width="0.06">9</text>
<text x="114.06" y="742.30" font-size="6.0" fill="#3a5a95" text-anchor="middle" class="ar" stroke="#3a5a95" stroke-width="0.06">8</text>
<text x="126.72" y="742.30" font-size="6.0" fill="#3a5a95" text-anchor="middle" class="ar" stroke="#3a5a95" stroke-width="0.06">8</text>
<text x="139.39" y="742.30" font-size="6.0" fill="#3a5a95" text-anchor="middle" class="ar" stroke="#3a5a95" stroke-width="0.06">8</text>
<text x="152.06" y="742.30" font-size="6.0" fill="#3a5a95" text-anchor="middle" class="ar" stroke="#3a5a95" stroke-width="0.06">7</text>
<text x="164.72" y="742.30" font-size="6.0" fill="#3a5a95" text-anchor="middle" class="ar" stroke="#3a5a95" stroke-width="0.06">7</text>
<text x="177.38" y="742.30" font-size="6.0" fill="#3a5a95" text-anchor="middle" class="ar" stroke="#3a5a95" stroke-width="0.06">7</text>
<text x="190.05" y="742.30" font-size="6.0" fill="#3a5a95" text-anchor="middle" class="ar" stroke="#3a5a95" stroke-width="0.06">7</text>
<text x="202.72" y="742.30" font-size="6.0" fill="#3a5a95" text-anchor="middle" class="ar" stroke="#3a5a95" stroke-width="0.06">7</text>
<text x="215.38" y="742.30" font-size="6.0" fill="#3a5a95" text-anchor="middle" class="ar" stroke="#3a5a95" stroke-width="0.06">6</text>
<text x="228.04" y="742.30" font-size="6.0" fill="#3a5a95" text-anchor="middle" class="ar" stroke="#3a5a95" stroke-width="0.06">4</text>
<text x="240.71" y="742.30" font-size="6.0" fill="#3a5a95" text-anchor="middle" class="ar" stroke="#3a5a95" stroke-width="0.06">4</text>
<text x="253.38" y="742.30" font-size="6.0" fill="#3a5a95" text-anchor="middle" class="ar" stroke="#3a5a95" stroke-width="0.06">4</text>
<text x="266.04" y="742.30" font-size="6.0" fill="#3a5a95" text-anchor="middle" class="ar" stroke="#3a5a95" stroke-width="0.06">4</text>
<text x="278.70" y="742.30" font-size="6.0" fill="#3a5a95" text-anchor="middle" class="ar" stroke="#3a5a95" stroke-width="0.06">4</text>
<text x="291.37" y="742.30" font-size="6.0" fill="#3a5a95" text-anchor="middle" class="ar" stroke="#3a5a95" stroke-width="0.06">4</text>
<text x="304.03" y="742.30" font-size="6.0" fill="#3a5a95" text-anchor="middle" class="ar" stroke="#3a5a95" stroke-width="0.06">2</text>
<text x="316.70" y="742.30" font-size="6.0" fill="#3a5a95" text-anchor="middle" class="ar" stroke="#3a5a95" stroke-width="0.06">1</text>
<text x="329.36" y="742.30" font-size="6.0" fill="#3a5a95" text-anchor="middle" class="ar" stroke="#3a5a95" stroke-width="0.06">0</text>
</g>
<rect x="0.75" y="0.7" width="518.5" height="750.55" fill="none" stroke="#000" stroke-width="1.5"/>
</svg>
</body></html>
